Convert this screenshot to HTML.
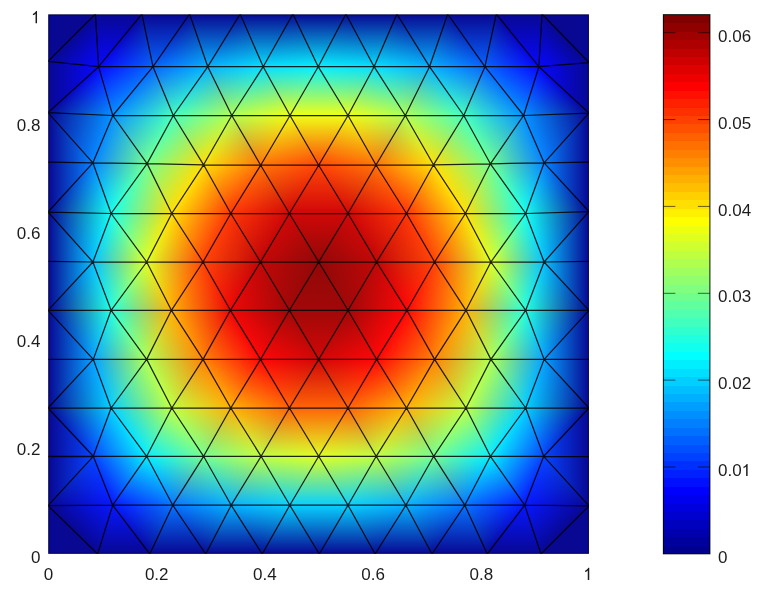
<!DOCTYPE html>
<html><head><meta charset="utf-8"><title>plot</title>
<style>html,body{margin:0;padding:0;background:#fff;}svg{display:block;}text{font-family:"Liberation Sans",sans-serif;font-size:17px;fill:#151515;}</style>
</head><body>
<svg width="768" height="598" viewBox="0 0 768 598">
<rect width="768" height="598" fill="#fff"/>
<defs><linearGradient id="g0" gradientUnits="userSpaceOnUse" x1="345.9" y1="14.0" x2="345.9" y2="66.7"><stop offset="0" stop-color="#000000"/><stop offset="1" stop-color="#00df00"/></linearGradient><linearGradient id="g1" gradientUnits="userSpaceOnUse" x1="345.9" y1="14.0" x2="345.9" y2="66.7"><stop offset="0" stop-color="#00008f"/><stop offset="1" stop-color="#0000ff"/></linearGradient><linearGradient id="g2" gradientUnits="userSpaceOnUse" x1="230.8" y1="213.5" x2="197.2" y2="169.7"><stop offset="0" stop-color="#003000"/><stop offset="1" stop-color="#00df00"/></linearGradient><linearGradient id="g3" gradientUnits="userSpaceOnUse" x1="318.7" y1="262.0" x2="279.7" y2="223.2"><stop offset="0" stop-color="#8f0000"/><stop offset="1" stop-color="#cf0000"/></linearGradient><linearGradient id="g4" gradientUnits="userSpaceOnUse" x1="260.5" y1="262.0" x2="221.4" y2="222.9"><stop offset="0" stop-color="#bf0000"/><stop offset="1" stop-color="#ff0000"/></linearGradient><linearGradient id="g5" gradientUnits="userSpaceOnUse" x1="289.4" y1="213.5" x2="246.2" y2="187.7"><stop offset="0" stop-color="#000000"/><stop offset="1" stop-color="#003000"/></linearGradient><linearGradient id="g6" gradientUnits="userSpaceOnUse" x1="289.4" y1="213.5" x2="247.0" y2="187.3"><stop offset="0" stop-color="#cf0000"/><stop offset="1" stop-color="#ff0000"/></linearGradient><linearGradient id="g7" gradientUnits="userSpaceOnUse" x1="289.4" y1="213.5" x2="266.6" y2="162.6"><stop offset="0" stop-color="#000000"/><stop offset="1" stop-color="#007000"/></linearGradient><linearGradient id="g8" gradientUnits="userSpaceOnUse" x1="92.9" y1="262.0" x2="142.4" y2="276.6"><stop offset="0" stop-color="#000000"/><stop offset="1" stop-color="#df0000"/></linearGradient><linearGradient id="g9" gradientUnits="userSpaceOnUse" x1="92.9" y1="262.0" x2="127.9" y2="236.3"><stop offset="0" stop-color="#00bf00"/><stop offset="1" stop-color="#00ff00"/></linearGradient><linearGradient id="g10" gradientUnits="userSpaceOnUse" x1="146.7" y1="262.0" x2="97.2" y2="247.4"><stop offset="0" stop-color="#000020"/><stop offset="1" stop-color="#0000ff"/></linearGradient><linearGradient id="g11" gradientUnits="userSpaceOnUse" x1="348.0" y1="505.2" x2="341.2" y2="453.4"><stop offset="0" stop-color="#000000"/><stop offset="1" stop-color="#df0000"/></linearGradient><linearGradient id="g12" gradientUnits="userSpaceOnUse" x1="348.0" y1="505.2" x2="348.0" y2="456.3"><stop offset="0" stop-color="#00cf00"/><stop offset="1" stop-color="#00ff00"/></linearGradient><linearGradient id="g13" gradientUnits="userSpaceOnUse" x1="318.7" y1="456.3" x2="325.5" y2="508.1"><stop offset="0" stop-color="#000020"/><stop offset="1" stop-color="#0000ff"/></linearGradient><linearGradient id="g14" gradientUnits="userSpaceOnUse" x1="48.0" y1="310.3" x2="92.9" y2="310.3"><stop offset="0" stop-color="#000000"/><stop offset="1" stop-color="#00bf00"/></linearGradient><linearGradient id="g15" gradientUnits="userSpaceOnUse" x1="48.0" y1="310.3" x2="92.9" y2="310.3"><stop offset="0" stop-color="#00008f"/><stop offset="1" stop-color="#0000ff"/></linearGradient><linearGradient id="g16" gradientUnits="userSpaceOnUse" x1="205.7" y1="554.0" x2="205.7" y2="505.2"><stop offset="0" stop-color="#000000"/><stop offset="1" stop-color="#007000"/></linearGradient><linearGradient id="g17" gradientUnits="userSpaceOnUse" x1="205.7" y1="554.0" x2="205.7" y2="505.2"><stop offset="0" stop-color="#00008f"/><stop offset="1" stop-color="#0000ff"/></linearGradient><linearGradient id="g18" gradientUnits="userSpaceOnUse" x1="48.0" y1="456.5" x2="93.3" y2="456.5"><stop offset="0" stop-color="#000000"/><stop offset="1" stop-color="#004000"/></linearGradient><linearGradient id="g19" gradientUnits="userSpaceOnUse" x1="48.0" y1="456.5" x2="93.3" y2="456.5"><stop offset="0" stop-color="#00008f"/><stop offset="1" stop-color="#0000ff"/></linearGradient><linearGradient id="g20" gradientUnits="userSpaceOnUse" x1="48.0" y1="408.0" x2="110.8" y2="403.8"><stop offset="0" stop-color="#000000"/><stop offset="1" stop-color="#00cf00"/></linearGradient><linearGradient id="g21" gradientUnits="userSpaceOnUse" x1="48.0" y1="408.0" x2="103.6" y2="387.6"><stop offset="0" stop-color="#00008f"/><stop offset="1" stop-color="#0000ff"/></linearGradient><linearGradient id="g22" gradientUnits="userSpaceOnUse" x1="48.0" y1="408.0" x2="97.0" y2="381.7"><stop offset="0" stop-color="#000000"/><stop offset="1" stop-color="#00cf00"/></linearGradient><linearGradient id="g23" gradientUnits="userSpaceOnUse" x1="48.0" y1="408.0" x2="103.6" y2="428.5"><stop offset="0" stop-color="#00008f"/><stop offset="1" stop-color="#0000ff"/></linearGradient><linearGradient id="g24" gradientUnits="userSpaceOnUse" x1="111.1" y1="408.0" x2="158.2" y2="390.8"><stop offset="0" stop-color="#000000"/><stop offset="1" stop-color="#af0000"/></linearGradient><linearGradient id="g25" gradientUnits="userSpaceOnUse" x1="93.3" y1="359.4" x2="145.0" y2="368.9"><stop offset="0" stop-color="#009f00"/><stop offset="1" stop-color="#00ff00"/></linearGradient><linearGradient id="g26" gradientUnits="userSpaceOnUse" x1="146.7" y1="359.4" x2="99.6" y2="376.6"><stop offset="0" stop-color="#000050"/><stop offset="1" stop-color="#0000ff"/></linearGradient><linearGradient id="g27" gradientUnits="userSpaceOnUse" x1="111.1" y1="408.0" x2="163.0" y2="386.6"><stop offset="0" stop-color="#000000"/><stop offset="1" stop-color="#bf0000"/></linearGradient><linearGradient id="g28" gradientUnits="userSpaceOnUse" x1="111.1" y1="408.0" x2="159.0" y2="383.3"><stop offset="0" stop-color="#00cf00"/><stop offset="1" stop-color="#00ff00"/></linearGradient><linearGradient id="g29" gradientUnits="userSpaceOnUse" x1="171.8" y1="408.0" x2="119.9" y2="429.4"><stop offset="0" stop-color="#000040"/><stop offset="1" stop-color="#0000ff"/></linearGradient><linearGradient id="g30" gradientUnits="userSpaceOnUse" x1="319.3" y1="554.0" x2="319.3" y2="505.2"><stop offset="0" stop-color="#000000"/><stop offset="1" stop-color="#00cf00"/></linearGradient><linearGradient id="g31" gradientUnits="userSpaceOnUse" x1="319.3" y1="554.0" x2="319.3" y2="505.2"><stop offset="0" stop-color="#00008f"/><stop offset="1" stop-color="#0000ff"/></linearGradient><linearGradient id="g32" gradientUnits="userSpaceOnUse" x1="348.0" y1="505.2" x2="348.0" y2="456.3"><stop offset="0" stop-color="#000000"/><stop offset="1" stop-color="#df0000"/></linearGradient><linearGradient id="g33" gradientUnits="userSpaceOnUse" x1="348.0" y1="505.2" x2="348.0" y2="456.3"><stop offset="0" stop-color="#00cf00"/><stop offset="1" stop-color="#00ff00"/></linearGradient><linearGradient id="g34" gradientUnits="userSpaceOnUse" x1="318.7" y1="456.3" x2="318.7" y2="505.2"><stop offset="0" stop-color="#000020"/><stop offset="1" stop-color="#0000ff"/></linearGradient><linearGradient id="g35" gradientUnits="userSpaceOnUse" x1="589.0" y1="62.5" x2="538.9" y2="62.5"><stop offset="0" stop-color="#00008f"/><stop offset="1" stop-color="#0000ff"/></linearGradient><linearGradient id="g36" gradientUnits="userSpaceOnUse" x1="542.0" y1="14.0" x2="514.1" y2="41.1"><stop offset="0" stop-color="#00008f"/><stop offset="1" stop-color="#0000ff"/></linearGradient><linearGradient id="g37" gradientUnits="userSpaceOnUse" x1="496.3" y1="14.0" x2="496.3" y2="66.7"><stop offset="0" stop-color="#00008f"/><stop offset="1" stop-color="#0000ff"/></linearGradient><linearGradient id="g38" gradientUnits="userSpaceOnUse" x1="230.8" y1="213.5" x2="189.4" y2="186.5"><stop offset="0" stop-color="#003000"/><stop offset="1" stop-color="#00df00"/></linearGradient><linearGradient id="g39" gradientUnits="userSpaceOnUse" x1="111.1" y1="213.5" x2="165.2" y2="232.5"><stop offset="0" stop-color="#100000"/><stop offset="1" stop-color="#ff0000"/></linearGradient><linearGradient id="g40" gradientUnits="userSpaceOnUse" x1="171.8" y1="213.5" x2="132.4" y2="242.5"><stop offset="0" stop-color="#00df00"/><stop offset="1" stop-color="#00ff00"/></linearGradient><linearGradient id="g41" gradientUnits="userSpaceOnUse" x1="171.8" y1="213.5" x2="117.7" y2="194.5"><stop offset="0" stop-color="#000000"/><stop offset="1" stop-color="#0000ef"/></linearGradient><linearGradient id="g42" gradientUnits="userSpaceOnUse" x1="146.7" y1="262.0" x2="186.1" y2="287.8"><stop offset="0" stop-color="#df0000"/><stop offset="1" stop-color="#ff0000"/></linearGradient><linearGradient id="g43" gradientUnits="userSpaceOnUse" x1="203.0" y1="262.0" x2="146.7" y2="263.4"><stop offset="0" stop-color="#004000"/><stop offset="1" stop-color="#00ff00"/></linearGradient><linearGradient id="g44" gradientUnits="userSpaceOnUse" x1="203.0" y1="262.0" x2="163.6" y2="236.2"><stop offset="0" stop-color="#000000"/><stop offset="1" stop-color="#000020"/></linearGradient><linearGradient id="g45" gradientUnits="userSpaceOnUse" x1="230.4" y1="310.3" x2="189.1" y2="283.3"><stop offset="0" stop-color="#ef0000"/><stop offset="1" stop-color="#ff0000"/></linearGradient><linearGradient id="g46" gradientUnits="userSpaceOnUse" x1="230.4" y1="310.3" x2="172.3" y2="317.5"><stop offset="0" stop-color="#000000"/><stop offset="1" stop-color="#00af00"/></linearGradient><linearGradient id="g47" gradientUnits="userSpaceOnUse" x1="146.7" y1="262.0" x2="186.5" y2="236.4"><stop offset="0" stop-color="#df0000"/><stop offset="1" stop-color="#ff0000"/></linearGradient><linearGradient id="g48" gradientUnits="userSpaceOnUse" x1="203.0" y1="262.0" x2="152.1" y2="245.5"><stop offset="0" stop-color="#004000"/><stop offset="1" stop-color="#00ff00"/></linearGradient><linearGradient id="g49" gradientUnits="userSpaceOnUse" x1="171.8" y1="213.5" x2="132.0" y2="239.1"><stop offset="0" stop-color="#000000"/><stop offset="1" stop-color="#000020"/></linearGradient><linearGradient id="g50" gradientUnits="userSpaceOnUse" x1="230.8" y1="213.5" x2="182.2" y2="191.0"><stop offset="0" stop-color="#003000"/><stop offset="1" stop-color="#00df00"/></linearGradient><linearGradient id="g51" gradientUnits="userSpaceOnUse" x1="260.5" y1="262.0" x2="206.9" y2="276.5"><stop offset="0" stop-color="#bf0000"/><stop offset="1" stop-color="#ff0000"/></linearGradient><linearGradient id="g52" gradientUnits="userSpaceOnUse" x1="230.4" y1="310.3" x2="189.0" y2="284.5"><stop offset="0" stop-color="#000000"/><stop offset="1" stop-color="#004000"/></linearGradient><linearGradient id="g53" gradientUnits="userSpaceOnUse" x1="260.5" y1="262.0" x2="217.2" y2="237.2"><stop offset="0" stop-color="#bf0000"/><stop offset="1" stop-color="#ff0000"/></linearGradient><linearGradient id="g54" gradientUnits="userSpaceOnUse" x1="260.5" y1="262.0" x2="207.1" y2="247.2"><stop offset="0" stop-color="#000000"/><stop offset="1" stop-color="#004000"/></linearGradient><linearGradient id="g55" gradientUnits="userSpaceOnUse" x1="406.5" y1="213.5" x2="439.9" y2="169.7"><stop offset="0" stop-color="#003000"/><stop offset="1" stop-color="#00df00"/></linearGradient><linearGradient id="g56" gradientUnits="userSpaceOnUse" x1="292.9" y1="14.0" x2="296.5" y2="68.1"><stop offset="0" stop-color="#000000"/><stop offset="1" stop-color="#00ef00"/></linearGradient><linearGradient id="g57" gradientUnits="userSpaceOnUse" x1="292.9" y1="14.0" x2="292.9" y2="66.7"><stop offset="0" stop-color="#00008f"/><stop offset="1" stop-color="#0000ff"/></linearGradient><linearGradient id="g58" gradientUnits="userSpaceOnUse" x1="345.9" y1="14.0" x2="345.9" y2="66.7"><stop offset="0" stop-color="#000000"/><stop offset="1" stop-color="#00ef00"/></linearGradient><linearGradient id="g59" gradientUnits="userSpaceOnUse" x1="345.9" y1="14.0" x2="345.9" y2="66.7"><stop offset="0" stop-color="#00008f"/><stop offset="1" stop-color="#0000ff"/></linearGradient><linearGradient id="g60" gradientUnits="userSpaceOnUse" x1="345.9" y1="14.0" x2="342.4" y2="68.3"><stop offset="0" stop-color="#000000"/><stop offset="1" stop-color="#00ef00"/></linearGradient><linearGradient id="g61" gradientUnits="userSpaceOnUse" x1="345.9" y1="14.0" x2="345.9" y2="66.7"><stop offset="0" stop-color="#00008f"/><stop offset="1" stop-color="#0000ff"/></linearGradient><linearGradient id="g62" gradientUnits="userSpaceOnUse" x1="231.8" y1="115.5" x2="231.5" y2="165.0"><stop offset="0" stop-color="#af0000"/><stop offset="1" stop-color="#ff0000"/></linearGradient><linearGradient id="g63" gradientUnits="userSpaceOnUse" x1="260.7" y1="165.2" x2="220.1" y2="128.4"><stop offset="0" stop-color="#007000"/><stop offset="1" stop-color="#00ff00"/></linearGradient><linearGradient id="g64" gradientUnits="userSpaceOnUse" x1="260.7" y1="165.2" x2="261.0" y2="115.7"><stop offset="0" stop-color="#000000"/><stop offset="1" stop-color="#000050"/></linearGradient><linearGradient id="g65" gradientUnits="userSpaceOnUse" x1="173.3" y1="115.5" x2="206.6" y2="162.7"><stop offset="0" stop-color="#400000"/><stop offset="1" stop-color="#ff0000"/></linearGradient><linearGradient id="g66" gradientUnits="userSpaceOnUse" x1="203.6" y1="164.8" x2="203.6" y2="115.5"><stop offset="0" stop-color="#00df00"/><stop offset="1" stop-color="#00ff00"/></linearGradient><linearGradient id="g67" gradientUnits="userSpaceOnUse" x1="203.6" y1="164.8" x2="170.3" y2="117.6"><stop offset="0" stop-color="#000000"/><stop offset="1" stop-color="#0000bf"/></linearGradient><linearGradient id="g68" gradientUnits="userSpaceOnUse" x1="48.0" y1="212.0" x2="92.9" y2="212.0"><stop offset="0" stop-color="#000000"/><stop offset="1" stop-color="#00bf00"/></linearGradient><linearGradient id="g69" gradientUnits="userSpaceOnUse" x1="48.0" y1="212.0" x2="92.9" y2="212.0"><stop offset="0" stop-color="#00008f"/><stop offset="1" stop-color="#0000ff"/></linearGradient><linearGradient id="g70" gradientUnits="userSpaceOnUse" x1="48.0" y1="212.0" x2="82.2" y2="181.3"><stop offset="0" stop-color="#000000"/><stop offset="1" stop-color="#100000"/></linearGradient><linearGradient id="g71" gradientUnits="userSpaceOnUse" x1="48.0" y1="212.0" x2="111.0" y2="215.1"><stop offset="0" stop-color="#000000"/><stop offset="1" stop-color="#00ff00"/></linearGradient><linearGradient id="g72" gradientUnits="userSpaceOnUse" x1="48.0" y1="212.0" x2="103.1" y2="244.8"><stop offset="0" stop-color="#00008f"/><stop offset="1" stop-color="#0000ff"/></linearGradient><linearGradient id="g73" gradientUnits="userSpaceOnUse" x1="48.0" y1="212.0" x2="92.9" y2="212.0"><stop offset="0" stop-color="#000000"/><stop offset="1" stop-color="#008000"/></linearGradient><linearGradient id="g74" gradientUnits="userSpaceOnUse" x1="48.0" y1="212.0" x2="92.9" y2="212.0"><stop offset="0" stop-color="#00008f"/><stop offset="1" stop-color="#0000ff"/></linearGradient><linearGradient id="g75" gradientUnits="userSpaceOnUse" x1="48.0" y1="212.0" x2="83.2" y2="244.1"><stop offset="0" stop-color="#000000"/><stop offset="1" stop-color="#100000"/></linearGradient><linearGradient id="g76" gradientUnits="userSpaceOnUse" x1="48.0" y1="212.0" x2="107.3" y2="227.8"><stop offset="0" stop-color="#000000"/><stop offset="1" stop-color="#00ff00"/></linearGradient><linearGradient id="g77" gradientUnits="userSpaceOnUse" x1="48.0" y1="212.0" x2="103.1" y2="180.9"><stop offset="0" stop-color="#00008f"/><stop offset="1" stop-color="#0000ff"/></linearGradient><linearGradient id="g78" gradientUnits="userSpaceOnUse" x1="240.2" y1="14.0" x2="240.2" y2="66.7"><stop offset="0" stop-color="#000000"/><stop offset="1" stop-color="#00df00"/></linearGradient><linearGradient id="g79" gradientUnits="userSpaceOnUse" x1="240.2" y1="14.0" x2="240.2" y2="66.7"><stop offset="0" stop-color="#00008f"/><stop offset="1" stop-color="#0000ff"/></linearGradient><linearGradient id="g80" gradientUnits="userSpaceOnUse" x1="48.0" y1="162.1" x2="92.9" y2="162.1"><stop offset="0" stop-color="#000000"/><stop offset="1" stop-color="#008000"/></linearGradient><linearGradient id="g81" gradientUnits="userSpaceOnUse" x1="48.0" y1="162.1" x2="92.9" y2="162.1"><stop offset="0" stop-color="#00008f"/><stop offset="1" stop-color="#0000ff"/></linearGradient><linearGradient id="g82" gradientUnits="userSpaceOnUse" x1="141.9" y1="14.0" x2="141.9" y2="66.7"><stop offset="0" stop-color="#000000"/><stop offset="1" stop-color="#006000"/></linearGradient><linearGradient id="g83" gradientUnits="userSpaceOnUse" x1="141.9" y1="14.0" x2="141.9" y2="66.7"><stop offset="0" stop-color="#00008f"/><stop offset="1" stop-color="#0000ff"/></linearGradient><linearGradient id="g84" gradientUnits="userSpaceOnUse" x1="98.6" y1="66.7" x2="131.1" y2="93.4"><stop offset="0" stop-color="#000000"/><stop offset="1" stop-color="#006000"/></linearGradient><linearGradient id="g85" gradientUnits="userSpaceOnUse" x1="141.9" y1="14.0" x2="141.9" y2="66.7"><stop offset="0" stop-color="#00008f"/><stop offset="1" stop-color="#0000ff"/></linearGradient><linearGradient id="g86" gradientUnits="userSpaceOnUse" x1="98.6" y1="66.7" x2="126.7" y2="105.5"><stop offset="0" stop-color="#000000"/><stop offset="1" stop-color="#008f00"/></linearGradient><linearGradient id="g87" gradientUnits="userSpaceOnUse" x1="112.8" y1="115.5" x2="148.8" y2="145.2"><stop offset="0" stop-color="#000000"/><stop offset="1" stop-color="#400000"/></linearGradient><linearGradient id="g88" gradientUnits="userSpaceOnUse" x1="153.0" y1="66.7" x2="183.5" y2="108.0"><stop offset="0" stop-color="#006000"/><stop offset="1" stop-color="#00ff00"/></linearGradient><linearGradient id="g89" gradientUnits="userSpaceOnUse" x1="173.3" y1="115.5" x2="137.3" y2="85.8"><stop offset="0" stop-color="#0000bf"/><stop offset="1" stop-color="#0000ff"/></linearGradient><linearGradient id="g90" gradientUnits="userSpaceOnUse" x1="48.0" y1="112.6" x2="109.2" y2="128.9"><stop offset="0" stop-color="#000000"/><stop offset="1" stop-color="#008f00"/></linearGradient><linearGradient id="g91" gradientUnits="userSpaceOnUse" x1="48.0" y1="112.6" x2="104.1" y2="136.2"><stop offset="0" stop-color="#00008f"/><stop offset="1" stop-color="#0000ff"/></linearGradient><linearGradient id="g92" gradientUnits="userSpaceOnUse" x1="48.0" y1="112.6" x2="78.7" y2="146.4"><stop offset="0" stop-color="#000000"/><stop offset="1" stop-color="#008f00"/></linearGradient><linearGradient id="g93" gradientUnits="userSpaceOnUse" x1="48.0" y1="112.6" x2="107.0" y2="95.4"><stop offset="0" stop-color="#00008f"/><stop offset="1" stop-color="#0000ff"/></linearGradient><linearGradient id="g94" gradientUnits="userSpaceOnUse" x1="375.1" y1="554.0" x2="375.1" y2="505.2"><stop offset="0" stop-color="#000000"/><stop offset="1" stop-color="#00cf00"/></linearGradient><linearGradient id="g95" gradientUnits="userSpaceOnUse" x1="375.1" y1="554.0" x2="375.1" y2="505.2"><stop offset="0" stop-color="#00008f"/><stop offset="1" stop-color="#0000ff"/></linearGradient><linearGradient id="g96" gradientUnits="userSpaceOnUse" x1="405.9" y1="505.2" x2="405.9" y2="456.3"><stop offset="0" stop-color="#000000"/><stop offset="1" stop-color="#bf0000"/></linearGradient><linearGradient id="g97" gradientUnits="userSpaceOnUse" x1="405.9" y1="505.2" x2="383.8" y2="453.1"><stop offset="0" stop-color="#00af00"/><stop offset="1" stop-color="#00ff00"/></linearGradient><linearGradient id="g98" gradientUnits="userSpaceOnUse" x1="376.2" y1="456.3" x2="376.2" y2="505.2"><stop offset="0" stop-color="#000040"/><stop offset="1" stop-color="#0000ff"/></linearGradient><linearGradient id="g99" gradientUnits="userSpaceOnUse" x1="375.1" y1="554.0" x2="375.1" y2="505.2"><stop offset="0" stop-color="#000000"/><stop offset="1" stop-color="#00af00"/></linearGradient><linearGradient id="g100" gradientUnits="userSpaceOnUse" x1="375.1" y1="554.0" x2="375.1" y2="505.2"><stop offset="0" stop-color="#00008f"/><stop offset="1" stop-color="#0000ff"/></linearGradient><linearGradient id="g101" gradientUnits="userSpaceOnUse" x1="375.1" y1="554.0" x2="367.9" y2="502.4"><stop offset="0" stop-color="#000000"/><stop offset="1" stop-color="#00cf00"/></linearGradient><linearGradient id="g102" gradientUnits="userSpaceOnUse" x1="375.1" y1="554.0" x2="375.1" y2="505.2"><stop offset="0" stop-color="#00008f"/><stop offset="1" stop-color="#0000ff"/></linearGradient><linearGradient id="g103" gradientUnits="userSpaceOnUse" x1="589.0" y1="408.0" x2="543.7" y2="408.0"><stop offset="0" stop-color="#000000"/><stop offset="1" stop-color="#004000"/></linearGradient><linearGradient id="g104" gradientUnits="userSpaceOnUse" x1="589.0" y1="408.0" x2="543.7" y2="408.0"><stop offset="0" stop-color="#00008f"/><stop offset="1" stop-color="#0000ff"/></linearGradient><linearGradient id="g105" gradientUnits="userSpaceOnUse" x1="376.6" y1="262.0" x2="420.0" y2="236.8"><stop offset="0" stop-color="#bf0000"/><stop offset="1" stop-color="#ff0000"/></linearGradient><linearGradient id="g106" gradientUnits="userSpaceOnUse" x1="376.6" y1="262.0" x2="430.4" y2="246.9"><stop offset="0" stop-color="#000000"/><stop offset="1" stop-color="#004000"/></linearGradient><linearGradient id="g107" gradientUnits="userSpaceOnUse" x1="406.9" y1="310.3" x2="465.0" y2="317.8"><stop offset="0" stop-color="#000000"/><stop offset="1" stop-color="#00af00"/></linearGradient><linearGradient id="g108" gradientUnits="userSpaceOnUse" x1="376.6" y1="262.0" x2="420.2" y2="287.0"><stop offset="0" stop-color="#bf0000"/><stop offset="1" stop-color="#ff0000"/></linearGradient><linearGradient id="g109" gradientUnits="userSpaceOnUse" x1="406.9" y1="310.3" x2="448.5" y2="284.2"><stop offset="0" stop-color="#000000"/><stop offset="1" stop-color="#004000"/></linearGradient><linearGradient id="g110" gradientUnits="userSpaceOnUse" x1="490.9" y1="262.0" x2="451.3" y2="287.7"><stop offset="0" stop-color="#df0000"/><stop offset="1" stop-color="#ff0000"/></linearGradient><linearGradient id="g111" gradientUnits="userSpaceOnUse" x1="434.6" y1="262.0" x2="490.8" y2="263.7"><stop offset="0" stop-color="#004000"/><stop offset="1" stop-color="#00ff00"/></linearGradient><linearGradient id="g112" gradientUnits="userSpaceOnUse" x1="434.6" y1="262.0" x2="474.2" y2="236.3"><stop offset="0" stop-color="#000000"/><stop offset="1" stop-color="#000020"/></linearGradient><linearGradient id="g113" gradientUnits="userSpaceOnUse" x1="48.0" y1="359.4" x2="93.3" y2="359.4"><stop offset="0" stop-color="#000000"/><stop offset="1" stop-color="#009f00"/></linearGradient><linearGradient id="g114" gradientUnits="userSpaceOnUse" x1="48.0" y1="359.4" x2="93.3" y2="359.4"><stop offset="0" stop-color="#00008f"/><stop offset="1" stop-color="#0000ff"/></linearGradient><linearGradient id="g115" gradientUnits="userSpaceOnUse" x1="48.0" y1="359.4" x2="93.3" y2="359.4"><stop offset="0" stop-color="#000000"/><stop offset="1" stop-color="#009f00"/></linearGradient><linearGradient id="g116" gradientUnits="userSpaceOnUse" x1="48.0" y1="359.4" x2="93.3" y2="359.4"><stop offset="0" stop-color="#00008f"/><stop offset="1" stop-color="#0000ff"/></linearGradient><linearGradient id="g117" gradientUnits="userSpaceOnUse" x1="149.8" y1="554.0" x2="186.1" y2="519.0"><stop offset="0" stop-color="#000000"/><stop offset="1" stop-color="#007000"/></linearGradient><linearGradient id="g118" gradientUnits="userSpaceOnUse" x1="149.8" y1="554.0" x2="149.8" y2="505.2"><stop offset="0" stop-color="#00008f"/><stop offset="1" stop-color="#0000ff"/></linearGradient><linearGradient id="g119" gradientUnits="userSpaceOnUse" x1="112.7" y1="505.2" x2="137.2" y2="451.9"><stop offset="0" stop-color="#001000"/><stop offset="1" stop-color="#00ef00"/></linearGradient><linearGradient id="g120" gradientUnits="userSpaceOnUse" x1="112.7" y1="505.2" x2="158.5" y2="473.4"><stop offset="0" stop-color="#001000"/><stop offset="1" stop-color="#00ef00"/></linearGradient><linearGradient id="g121" gradientUnits="userSpaceOnUse" x1="93.3" y1="456.3" x2="134.8" y2="434.1"><stop offset="0" stop-color="#004000"/><stop offset="1" stop-color="#00ef00"/></linearGradient><linearGradient id="g122" gradientUnits="userSpaceOnUse" x1="146.7" y1="456.3" x2="186.0" y2="427.3"><stop offset="0" stop-color="#000000"/><stop offset="1" stop-color="#bf0000"/></linearGradient><linearGradient id="g123" gradientUnits="userSpaceOnUse" x1="111.1" y1="408.0" x2="171.2" y2="414.1"><stop offset="0" stop-color="#00cf00"/><stop offset="1" stop-color="#00ff00"/></linearGradient><linearGradient id="g124" gradientUnits="userSpaceOnUse" x1="171.8" y1="408.0" x2="132.5" y2="437.0"><stop offset="0" stop-color="#000040"/><stop offset="1" stop-color="#0000ff"/></linearGradient><linearGradient id="g125" gradientUnits="userSpaceOnUse" x1="262.2" y1="554.0" x2="262.2" y2="505.2"><stop offset="0" stop-color="#000000"/><stop offset="1" stop-color="#00cf00"/></linearGradient><linearGradient id="g126" gradientUnits="userSpaceOnUse" x1="262.2" y1="554.0" x2="262.2" y2="505.2"><stop offset="0" stop-color="#00008f"/><stop offset="1" stop-color="#0000ff"/></linearGradient><linearGradient id="g127" gradientUnits="userSpaceOnUse" x1="205.7" y1="554.0" x2="224.2" y2="502.7"><stop offset="0" stop-color="#000000"/><stop offset="1" stop-color="#00af00"/></linearGradient><linearGradient id="g128" gradientUnits="userSpaceOnUse" x1="205.7" y1="554.0" x2="205.7" y2="505.2"><stop offset="0" stop-color="#00008f"/><stop offset="1" stop-color="#0000ff"/></linearGradient><linearGradient id="g129" gradientUnits="userSpaceOnUse" x1="262.2" y1="554.0" x2="262.2" y2="505.2"><stop offset="0" stop-color="#000000"/><stop offset="1" stop-color="#00af00"/></linearGradient><linearGradient id="g130" gradientUnits="userSpaceOnUse" x1="262.2" y1="554.0" x2="262.2" y2="505.2"><stop offset="0" stop-color="#00008f"/><stop offset="1" stop-color="#0000ff"/></linearGradient><linearGradient id="g131" gradientUnits="userSpaceOnUse" x1="262.2" y1="554.0" x2="269.3" y2="502.4"><stop offset="0" stop-color="#000000"/><stop offset="1" stop-color="#00cf00"/></linearGradient><linearGradient id="g132" gradientUnits="userSpaceOnUse" x1="262.2" y1="554.0" x2="262.2" y2="505.2"><stop offset="0" stop-color="#00008f"/><stop offset="1" stop-color="#0000ff"/></linearGradient><linearGradient id="g133" gradientUnits="userSpaceOnUse" x1="589.0" y1="113.0" x2="557.6" y2="146.9"><stop offset="0" stop-color="#000000"/><stop offset="1" stop-color="#008f00"/></linearGradient><linearGradient id="g134" gradientUnits="userSpaceOnUse" x1="589.0" y1="113.0" x2="530.2" y2="94.6"><stop offset="0" stop-color="#00008f"/><stop offset="1" stop-color="#0000ff"/></linearGradient><linearGradient id="g135" gradientUnits="userSpaceOnUse" x1="48.0" y1="310.3" x2="82.1" y2="278.9"><stop offset="0" stop-color="#000000"/><stop offset="1" stop-color="#200000"/></linearGradient><linearGradient id="g136" gradientUnits="userSpaceOnUse" x1="48.0" y1="310.3" x2="110.2" y2="302.9"><stop offset="0" stop-color="#000000"/><stop offset="1" stop-color="#00ff00"/></linearGradient><linearGradient id="g137" gradientUnits="userSpaceOnUse" x1="48.0" y1="310.3" x2="98.0" y2="354.1"><stop offset="0" stop-color="#00008f"/><stop offset="1" stop-color="#0000ff"/></linearGradient><linearGradient id="g138" gradientUnits="userSpaceOnUse" x1="48.0" y1="310.3" x2="81.8" y2="341.8"><stop offset="0" stop-color="#000000"/><stop offset="1" stop-color="#200000"/></linearGradient><linearGradient id="g139" gradientUnits="userSpaceOnUse" x1="48.0" y1="310.3" x2="110.9" y2="307.1"><stop offset="0" stop-color="#000000"/><stop offset="1" stop-color="#00ff00"/></linearGradient><linearGradient id="g140" gradientUnits="userSpaceOnUse" x1="48.0" y1="310.3" x2="96.8" y2="266.4"><stop offset="0" stop-color="#00008f"/><stop offset="1" stop-color="#0000ff"/></linearGradient><linearGradient id="g141" gradientUnits="userSpaceOnUse" x1="93.3" y1="359.4" x2="145.3" y2="368.0"><stop offset="0" stop-color="#000000"/><stop offset="1" stop-color="#af0000"/></linearGradient><linearGradient id="g142" gradientUnits="userSpaceOnUse" x1="93.3" y1="359.4" x2="128.3" y2="334.0"><stop offset="0" stop-color="#009f00"/><stop offset="1" stop-color="#00ff00"/></linearGradient><linearGradient id="g143" gradientUnits="userSpaceOnUse" x1="146.7" y1="359.4" x2="94.7" y2="350.8"><stop offset="0" stop-color="#000050"/><stop offset="1" stop-color="#0000ff"/></linearGradient><linearGradient id="g144" gradientUnits="userSpaceOnUse" x1="111.1" y1="310.3" x2="171.2" y2="314.2"><stop offset="0" stop-color="#200000"/><stop offset="1" stop-color="#ff0000"/></linearGradient><linearGradient id="g145" gradientUnits="userSpaceOnUse" x1="171.4" y1="310.3" x2="131.9" y2="339.0"><stop offset="0" stop-color="#00af00"/><stop offset="1" stop-color="#00ff00"/></linearGradient><linearGradient id="g146" gradientUnits="userSpaceOnUse" x1="171.4" y1="310.3" x2="111.3" y2="306.4"><stop offset="0" stop-color="#000000"/><stop offset="1" stop-color="#0000df"/></linearGradient><linearGradient id="g147" gradientUnits="userSpaceOnUse" x1="92.9" y1="262.0" x2="144.3" y2="250.8"><stop offset="0" stop-color="#000000"/><stop offset="1" stop-color="#df0000"/></linearGradient><linearGradient id="g148" gradientUnits="userSpaceOnUse" x1="92.9" y1="262.0" x2="127.8" y2="287.7"><stop offset="0" stop-color="#00bf00"/><stop offset="1" stop-color="#00ff00"/></linearGradient><linearGradient id="g149" gradientUnits="userSpaceOnUse" x1="146.7" y1="262.0" x2="95.3" y2="273.2"><stop offset="0" stop-color="#000020"/><stop offset="1" stop-color="#0000ff"/></linearGradient><linearGradient id="g150" gradientUnits="userSpaceOnUse" x1="111.1" y1="310.3" x2="165.4" y2="292.2"><stop offset="0" stop-color="#200000"/><stop offset="1" stop-color="#ff0000"/></linearGradient><linearGradient id="g151" gradientUnits="userSpaceOnUse" x1="171.4" y1="310.3" x2="132.3" y2="281.5"><stop offset="0" stop-color="#00af00"/><stop offset="1" stop-color="#00ff00"/></linearGradient><linearGradient id="g152" gradientUnits="userSpaceOnUse" x1="171.4" y1="310.3" x2="117.1" y2="328.4"><stop offset="0" stop-color="#000000"/><stop offset="1" stop-color="#0000df"/></linearGradient><linearGradient id="g153" gradientUnits="userSpaceOnUse" x1="112.8" y1="115.5" x2="159.1" y2="135.0"><stop offset="0" stop-color="#000000"/><stop offset="1" stop-color="#700000"/></linearGradient><linearGradient id="g154" gradientUnits="userSpaceOnUse" x1="92.9" y1="162.8" x2="143.4" y2="176.8"><stop offset="0" stop-color="#008000"/><stop offset="1" stop-color="#00ff00"/></linearGradient><linearGradient id="g155" gradientUnits="userSpaceOnUse" x1="147.1" y1="163.6" x2="100.8" y2="144.1"><stop offset="0" stop-color="#00008f"/><stop offset="1" stop-color="#0000ff"/></linearGradient><linearGradient id="g156" gradientUnits="userSpaceOnUse" x1="112.8" y1="115.5" x2="145.7" y2="164.5"><stop offset="0" stop-color="#000000"/><stop offset="1" stop-color="#700000"/></linearGradient><linearGradient id="g157" gradientUnits="userSpaceOnUse" x1="112.8" y1="115.5" x2="159.5" y2="140.9"><stop offset="0" stop-color="#008f00"/><stop offset="1" stop-color="#00ff00"/></linearGradient><linearGradient id="g158" gradientUnits="userSpaceOnUse" x1="147.1" y1="163.6" x2="114.2" y2="114.6"><stop offset="0" stop-color="#00008f"/><stop offset="1" stop-color="#0000ff"/></linearGradient><linearGradient id="g159" gradientUnits="userSpaceOnUse" x1="92.9" y1="162.8" x2="144.7" y2="152.1"><stop offset="0" stop-color="#000000"/><stop offset="1" stop-color="#700000"/></linearGradient><linearGradient id="g160" gradientUnits="userSpaceOnUse" x1="92.9" y1="162.8" x2="128.9" y2="188.8"><stop offset="0" stop-color="#008000"/><stop offset="1" stop-color="#00ff00"/></linearGradient><linearGradient id="g161" gradientUnits="userSpaceOnUse" x1="147.1" y1="163.6" x2="95.3" y2="174.3"><stop offset="0" stop-color="#00008f"/><stop offset="1" stop-color="#0000ff"/></linearGradient><linearGradient id="g162" gradientUnits="userSpaceOnUse" x1="111.1" y1="213.5" x2="168.6" y2="227.0"><stop offset="0" stop-color="#100000"/><stop offset="1" stop-color="#ff0000"/></linearGradient><linearGradient id="g163" gradientUnits="userSpaceOnUse" x1="171.8" y1="213.5" x2="131.9" y2="184.7"><stop offset="0" stop-color="#00df00"/><stop offset="1" stop-color="#00ff00"/></linearGradient><linearGradient id="g164" gradientUnits="userSpaceOnUse" x1="171.8" y1="213.5" x2="114.3" y2="200.0"><stop offset="0" stop-color="#000000"/><stop offset="1" stop-color="#0000ef"/></linearGradient><linearGradient id="g165" gradientUnits="userSpaceOnUse" x1="173.3" y1="115.5" x2="213.9" y2="153.9"><stop offset="0" stop-color="#400000"/><stop offset="1" stop-color="#ff0000"/></linearGradient><linearGradient id="g166" gradientUnits="userSpaceOnUse" x1="203.6" y1="164.8" x2="159.5" y2="140.8"><stop offset="0" stop-color="#00df00"/><stop offset="1" stop-color="#00ff00"/></linearGradient><linearGradient id="g167" gradientUnits="userSpaceOnUse" x1="203.6" y1="164.8" x2="163.0" y2="126.4"><stop offset="0" stop-color="#000000"/><stop offset="1" stop-color="#0000bf"/></linearGradient><linearGradient id="g168" gradientUnits="userSpaceOnUse" x1="147.1" y1="163.6" x2="187.3" y2="189.8"><stop offset="0" stop-color="#700000"/><stop offset="1" stop-color="#ff0000"/></linearGradient><linearGradient id="g169" gradientUnits="userSpaceOnUse" x1="171.8" y1="213.5" x2="131.6" y2="187.3"><stop offset="0" stop-color="#00df00"/><stop offset="1" stop-color="#00ff00"/></linearGradient><linearGradient id="g170" gradientUnits="userSpaceOnUse" x1="171.8" y1="213.5" x2="131.6" y2="187.3"><stop offset="0" stop-color="#000000"/><stop offset="1" stop-color="#00008f"/></linearGradient><linearGradient id="g171" gradientUnits="userSpaceOnUse" x1="405.3" y1="115.5" x2="405.5" y2="164.9"><stop offset="0" stop-color="#af0000"/><stop offset="1" stop-color="#ff0000"/></linearGradient><linearGradient id="g172" gradientUnits="userSpaceOnUse" x1="376.0" y1="165.0" x2="416.7" y2="128.1"><stop offset="0" stop-color="#007000"/><stop offset="1" stop-color="#00ff00"/></linearGradient><linearGradient id="g173" gradientUnits="userSpaceOnUse" x1="376.0" y1="165.0" x2="375.8" y2="115.6"><stop offset="0" stop-color="#000000"/><stop offset="1" stop-color="#000050"/></linearGradient><linearGradient id="g174" gradientUnits="userSpaceOnUse" x1="318.7" y1="262.0" x2="318.7" y2="213.5"><stop offset="0" stop-color="#8f0000"/><stop offset="1" stop-color="#cf0000"/></linearGradient><linearGradient id="g175" gradientUnits="userSpaceOnUse" x1="318.7" y1="262.0" x2="357.8" y2="223.4"><stop offset="0" stop-color="#8f0000"/><stop offset="1" stop-color="#cf0000"/></linearGradient><linearGradient id="g176" gradientUnits="userSpaceOnUse" x1="348.0" y1="213.5" x2="389.9" y2="187.1"><stop offset="0" stop-color="#cf0000"/><stop offset="1" stop-color="#ff0000"/></linearGradient><linearGradient id="g177" gradientUnits="userSpaceOnUse" x1="348.0" y1="213.5" x2="370.7" y2="162.6"><stop offset="0" stop-color="#000000"/><stop offset="1" stop-color="#007000"/></linearGradient><linearGradient id="g178" gradientUnits="userSpaceOnUse" x1="376.6" y1="262.0" x2="415.9" y2="223.0"><stop offset="0" stop-color="#bf0000"/><stop offset="1" stop-color="#ff0000"/></linearGradient><linearGradient id="g179" gradientUnits="userSpaceOnUse" x1="376.6" y1="262.0" x2="420.0" y2="236.4"><stop offset="0" stop-color="#000000"/><stop offset="1" stop-color="#003000"/></linearGradient><linearGradient id="g180" gradientUnits="userSpaceOnUse" x1="318.2" y1="66.7" x2="318.2" y2="115.5"><stop offset="0" stop-color="#000000"/><stop offset="1" stop-color="#ef0000"/></linearGradient><linearGradient id="g181" gradientUnits="userSpaceOnUse" x1="374.1" y1="66.7" x2="346.7" y2="114.8"><stop offset="0" stop-color="#00df00"/><stop offset="1" stop-color="#00ff00"/></linearGradient><linearGradient id="g182" gradientUnits="userSpaceOnUse" x1="348.0" y1="115.5" x2="348.0" y2="66.7"><stop offset="0" stop-color="#000010"/><stop offset="1" stop-color="#0000ff"/></linearGradient><linearGradient id="g183" gradientUnits="userSpaceOnUse" x1="374.1" y1="66.7" x2="360.6" y2="118.8"><stop offset="0" stop-color="#000000"/><stop offset="1" stop-color="#ef0000"/></linearGradient><linearGradient id="g184" gradientUnits="userSpaceOnUse" x1="374.1" y1="66.7" x2="374.1" y2="115.5"><stop offset="0" stop-color="#00df00"/><stop offset="1" stop-color="#00ff00"/></linearGradient><linearGradient id="g185" gradientUnits="userSpaceOnUse" x1="348.0" y1="115.5" x2="361.5" y2="63.4"><stop offset="0" stop-color="#000010"/><stop offset="1" stop-color="#0000ff"/></linearGradient><linearGradient id="g186" gradientUnits="userSpaceOnUse" x1="405.3" y1="115.5" x2="363.9" y2="150.9"><stop offset="0" stop-color="#af0000"/><stop offset="1" stop-color="#ff0000"/></linearGradient><linearGradient id="g187" gradientUnits="userSpaceOnUse" x1="376.0" y1="165.0" x2="376.0" y2="115.5"><stop offset="0" stop-color="#007000"/><stop offset="1" stop-color="#00ff00"/></linearGradient><linearGradient id="g188" gradientUnits="userSpaceOnUse" x1="376.0" y1="165.0" x2="417.4" y2="129.6"><stop offset="0" stop-color="#000000"/><stop offset="1" stop-color="#000050"/></linearGradient><linearGradient id="g189" gradientUnits="userSpaceOnUse" x1="318.2" y1="66.7" x2="318.2" y2="115.5"><stop offset="0" stop-color="#000000"/><stop offset="1" stop-color="#ef0000"/></linearGradient><linearGradient id="g190" gradientUnits="userSpaceOnUse" x1="263.2" y1="66.7" x2="291.4" y2="114.7"><stop offset="0" stop-color="#00df00"/><stop offset="1" stop-color="#00ff00"/></linearGradient><linearGradient id="g191" gradientUnits="userSpaceOnUse" x1="290.0" y1="115.5" x2="290.0" y2="66.7"><stop offset="0" stop-color="#000010"/><stop offset="1" stop-color="#0000ff"/></linearGradient><linearGradient id="g192" gradientUnits="userSpaceOnUse" x1="231.8" y1="115.5" x2="272.7" y2="151.6"><stop offset="0" stop-color="#af0000"/><stop offset="1" stop-color="#ff0000"/></linearGradient><linearGradient id="g193" gradientUnits="userSpaceOnUse" x1="260.7" y1="165.2" x2="260.7" y2="115.5"><stop offset="0" stop-color="#007000"/><stop offset="1" stop-color="#00ff00"/></linearGradient><linearGradient id="g194" gradientUnits="userSpaceOnUse" x1="260.7" y1="165.2" x2="219.8" y2="129.1"><stop offset="0" stop-color="#000000"/><stop offset="1" stop-color="#000050"/></linearGradient><linearGradient id="g195" gradientUnits="userSpaceOnUse" x1="263.2" y1="66.7" x2="276.5" y2="118.9"><stop offset="0" stop-color="#000000"/><stop offset="1" stop-color="#ef0000"/></linearGradient><linearGradient id="g196" gradientUnits="userSpaceOnUse" x1="263.2" y1="66.7" x2="263.2" y2="115.5"><stop offset="0" stop-color="#00df00"/><stop offset="1" stop-color="#00ff00"/></linearGradient><linearGradient id="g197" gradientUnits="userSpaceOnUse" x1="290.0" y1="115.5" x2="276.7" y2="63.3"><stop offset="0" stop-color="#000010"/><stop offset="1" stop-color="#0000ff"/></linearGradient><linearGradient id="g198" gradientUnits="userSpaceOnUse" x1="318.2" y1="66.7" x2="318.2" y2="115.5"><stop offset="0" stop-color="#000000"/><stop offset="1" stop-color="#ef0000"/></linearGradient><linearGradient id="g199" gradientUnits="userSpaceOnUse" x1="318.2" y1="66.7" x2="318.2" y2="115.5"><stop offset="0" stop-color="#00ef00"/><stop offset="1" stop-color="#00ff00"/></linearGradient><linearGradient id="g200" gradientUnits="userSpaceOnUse" x1="348.0" y1="115.5" x2="348.0" y2="66.7"><stop offset="0" stop-color="#000010"/><stop offset="1" stop-color="#0000ff"/></linearGradient><linearGradient id="g201" gradientUnits="userSpaceOnUse" x1="207.8" y1="66.7" x2="207.8" y2="115.5"><stop offset="0" stop-color="#000000"/><stop offset="1" stop-color="#af0000"/></linearGradient><linearGradient id="g202" gradientUnits="userSpaceOnUse" x1="207.8" y1="66.7" x2="239.0" y2="110.4"><stop offset="0" stop-color="#00af00"/><stop offset="1" stop-color="#00ff00"/></linearGradient><linearGradient id="g203" gradientUnits="userSpaceOnUse" x1="231.8" y1="115.5" x2="231.8" y2="66.7"><stop offset="0" stop-color="#000050"/><stop offset="1" stop-color="#0000ff"/></linearGradient><linearGradient id="g204" gradientUnits="userSpaceOnUse" x1="240.2" y1="14.0" x2="240.2" y2="66.7"><stop offset="0" stop-color="#000000"/><stop offset="1" stop-color="#00af00"/></linearGradient><linearGradient id="g205" gradientUnits="userSpaceOnUse" x1="240.2" y1="14.0" x2="240.2" y2="66.7"><stop offset="0" stop-color="#00008f"/><stop offset="1" stop-color="#0000ff"/></linearGradient><linearGradient id="g206" gradientUnits="userSpaceOnUse" x1="240.2" y1="14.0" x2="252.5" y2="69.1"><stop offset="0" stop-color="#000000"/><stop offset="1" stop-color="#00df00"/></linearGradient><linearGradient id="g207" gradientUnits="userSpaceOnUse" x1="240.2" y1="14.0" x2="240.2" y2="66.7"><stop offset="0" stop-color="#00008f"/><stop offset="1" stop-color="#0000ff"/></linearGradient><linearGradient id="g208" gradientUnits="userSpaceOnUse" x1="189.6" y1="14.0" x2="214.9" y2="63.1"><stop offset="0" stop-color="#000000"/><stop offset="1" stop-color="#00af00"/></linearGradient><linearGradient id="g209" gradientUnits="userSpaceOnUse" x1="189.6" y1="14.0" x2="189.6" y2="66.7"><stop offset="0" stop-color="#00008f"/><stop offset="1" stop-color="#0000ff"/></linearGradient><linearGradient id="g210" gradientUnits="userSpaceOnUse" x1="207.8" y1="66.7" x2="207.8" y2="115.5"><stop offset="0" stop-color="#000000"/><stop offset="1" stop-color="#400000"/></linearGradient><linearGradient id="g211" gradientUnits="userSpaceOnUse" x1="153.0" y1="66.7" x2="178.2" y2="112.8"><stop offset="0" stop-color="#006000"/><stop offset="1" stop-color="#00ff00"/></linearGradient><linearGradient id="g212" gradientUnits="userSpaceOnUse" x1="173.3" y1="115.5" x2="173.3" y2="66.7"><stop offset="0" stop-color="#0000bf"/><stop offset="1" stop-color="#0000ff"/></linearGradient><linearGradient id="g213" gradientUnits="userSpaceOnUse" x1="207.8" y1="66.7" x2="239.1" y2="110.3"><stop offset="0" stop-color="#000000"/><stop offset="1" stop-color="#af0000"/></linearGradient><linearGradient id="g214" gradientUnits="userSpaceOnUse" x1="207.8" y1="66.7" x2="207.8" y2="115.5"><stop offset="0" stop-color="#00af00"/><stop offset="1" stop-color="#00ff00"/></linearGradient><linearGradient id="g215" gradientUnits="userSpaceOnUse" x1="231.8" y1="115.5" x2="200.5" y2="71.9"><stop offset="0" stop-color="#000050"/><stop offset="1" stop-color="#0000ff"/></linearGradient><linearGradient id="g216" gradientUnits="userSpaceOnUse" x1="48.0" y1="112.6" x2="98.6" y2="112.6"><stop offset="0" stop-color="#00008f"/><stop offset="1" stop-color="#0000ff"/></linearGradient><linearGradient id="g217" gradientUnits="userSpaceOnUse" x1="95.4" y1="14.0" x2="95.4" y2="66.7"><stop offset="0" stop-color="#00008f"/><stop offset="1" stop-color="#0000ff"/></linearGradient><linearGradient id="g218" gradientUnits="userSpaceOnUse" x1="48.0" y1="61.4" x2="76.0" y2="89.3"><stop offset="0" stop-color="#00008f"/><stop offset="1" stop-color="#0000ff"/></linearGradient><linearGradient id="g219" gradientUnits="userSpaceOnUse" x1="487.3" y1="554.0" x2="487.3" y2="505.2"><stop offset="0" stop-color="#000000"/><stop offset="1" stop-color="#007000"/></linearGradient><linearGradient id="g220" gradientUnits="userSpaceOnUse" x1="487.3" y1="554.0" x2="487.3" y2="505.2"><stop offset="0" stop-color="#00008f"/><stop offset="1" stop-color="#0000ff"/></linearGradient><linearGradient id="g221" gradientUnits="userSpaceOnUse" x1="432.0" y1="554.0" x2="413.5" y2="502.5"><stop offset="0" stop-color="#000000"/><stop offset="1" stop-color="#00af00"/></linearGradient><linearGradient id="g222" gradientUnits="userSpaceOnUse" x1="432.0" y1="554.0" x2="432.0" y2="505.2"><stop offset="0" stop-color="#00008f"/><stop offset="1" stop-color="#0000ff"/></linearGradient><linearGradient id="g223" gradientUnits="userSpaceOnUse" x1="487.3" y1="554.0" x2="451.3" y2="519.1"><stop offset="0" stop-color="#000000"/><stop offset="1" stop-color="#007000"/></linearGradient><linearGradient id="g224" gradientUnits="userSpaceOnUse" x1="487.3" y1="554.0" x2="487.3" y2="505.2"><stop offset="0" stop-color="#00008f"/><stop offset="1" stop-color="#0000ff"/></linearGradient><linearGradient id="g225" gradientUnits="userSpaceOnUse" x1="541.0" y1="554.0" x2="541.0" y2="505.2"><stop offset="0" stop-color="#000000"/><stop offset="1" stop-color="#001000"/></linearGradient><linearGradient id="g226" gradientUnits="userSpaceOnUse" x1="541.0" y1="554.0" x2="541.0" y2="505.2"><stop offset="0" stop-color="#00008f"/><stop offset="1" stop-color="#0000ff"/></linearGradient><linearGradient id="g227" gradientUnits="userSpaceOnUse" x1="589.0" y1="505.9" x2="556.4" y2="473.4"><stop offset="0" stop-color="#000000"/><stop offset="1" stop-color="#001000"/></linearGradient><linearGradient id="g228" gradientUnits="userSpaceOnUse" x1="589.0" y1="505.9" x2="556.4" y2="473.4"><stop offset="0" stop-color="#00008f"/><stop offset="1" stop-color="#0000ff"/></linearGradient><linearGradient id="g229" gradientUnits="userSpaceOnUse" x1="589.0" y1="456.7" x2="543.7" y2="456.7"><stop offset="0" stop-color="#000000"/><stop offset="1" stop-color="#004000"/></linearGradient><linearGradient id="g230" gradientUnits="userSpaceOnUse" x1="589.0" y1="456.7" x2="543.7" y2="456.7"><stop offset="0" stop-color="#00008f"/><stop offset="1" stop-color="#0000ff"/></linearGradient><linearGradient id="g231" gradientUnits="userSpaceOnUse" x1="589.0" y1="505.9" x2="576.4" y2="449.1"><stop offset="0" stop-color="#000000"/><stop offset="1" stop-color="#004000"/></linearGradient><linearGradient id="g232" gradientUnits="userSpaceOnUse" x1="589.0" y1="505.9" x2="532.9" y2="484.1"><stop offset="0" stop-color="#00008f"/><stop offset="1" stop-color="#0000ff"/></linearGradient><linearGradient id="g233" gradientUnits="userSpaceOnUse" x1="589.0" y1="408.0" x2="539.8" y2="381.7"><stop offset="0" stop-color="#000000"/><stop offset="1" stop-color="#00cf00"/></linearGradient><linearGradient id="g234" gradientUnits="userSpaceOnUse" x1="589.0" y1="408.0" x2="533.4" y2="428.7"><stop offset="0" stop-color="#00008f"/><stop offset="1" stop-color="#0000ff"/></linearGradient><linearGradient id="g235" gradientUnits="userSpaceOnUse" x1="405.9" y1="505.2" x2="382.5" y2="453.4"><stop offset="0" stop-color="#000000"/><stop offset="1" stop-color="#bf0000"/></linearGradient><linearGradient id="g236" gradientUnits="userSpaceOnUse" x1="405.9" y1="505.2" x2="405.9" y2="456.3"><stop offset="0" stop-color="#00af00"/><stop offset="1" stop-color="#00ff00"/></linearGradient><linearGradient id="g237" gradientUnits="userSpaceOnUse" x1="376.2" y1="456.3" x2="399.6" y2="508.1"><stop offset="0" stop-color="#000040"/><stop offset="1" stop-color="#0000ff"/></linearGradient><linearGradient id="g238" gradientUnits="userSpaceOnUse" x1="464.8" y1="505.2" x2="464.8" y2="456.3"><stop offset="0" stop-color="#000000"/><stop offset="1" stop-color="#700000"/></linearGradient><linearGradient id="g239" gradientUnits="userSpaceOnUse" x1="464.8" y1="505.2" x2="439.8" y2="453.4"><stop offset="0" stop-color="#007000"/><stop offset="1" stop-color="#00ff00"/></linearGradient><linearGradient id="g240" gradientUnits="userSpaceOnUse" x1="433.7" y1="456.3" x2="433.7" y2="505.2"><stop offset="0" stop-color="#00008f"/><stop offset="1" stop-color="#0000ff"/></linearGradient><linearGradient id="g241" gradientUnits="userSpaceOnUse" x1="318.7" y1="262.0" x2="262.8" y2="250.6"><stop offset="0" stop-color="#8f0000"/><stop offset="1" stop-color="#bf0000"/></linearGradient><linearGradient id="g242" gradientUnits="userSpaceOnUse" x1="289.4" y1="310.3" x2="231.1" y2="316.7"><stop offset="0" stop-color="#9f0000"/><stop offset="1" stop-color="#ef0000"/></linearGradient><linearGradient id="g243" gradientUnits="userSpaceOnUse" x1="289.4" y1="310.3" x2="248.4" y2="345.3"><stop offset="0" stop-color="#9f0000"/><stop offset="1" stop-color="#ff0000"/></linearGradient><linearGradient id="g244" gradientUnits="userSpaceOnUse" x1="289.4" y1="310.3" x2="261.5" y2="360.0"><stop offset="0" stop-color="#9f0000"/><stop offset="1" stop-color="#ff0000"/></linearGradient><linearGradient id="g245" gradientUnits="userSpaceOnUse" x1="318.7" y1="359.4" x2="361.7" y2="384.7"><stop offset="0" stop-color="#cf0000"/><stop offset="1" stop-color="#ff0000"/></linearGradient><linearGradient id="g246" gradientUnits="userSpaceOnUse" x1="318.7" y1="359.4" x2="318.7" y2="408.0"><stop offset="0" stop-color="#000000"/><stop offset="1" stop-color="#006000"/></linearGradient><linearGradient id="g247" gradientUnits="userSpaceOnUse" x1="376.2" y1="456.3" x2="349.0" y2="407.4"><stop offset="0" stop-color="#bf0000"/><stop offset="1" stop-color="#ff0000"/></linearGradient><linearGradient id="g248" gradientUnits="userSpaceOnUse" x1="348.0" y1="408.0" x2="348.0" y2="456.3"><stop offset="0" stop-color="#006000"/><stop offset="1" stop-color="#00ff00"/></linearGradient><linearGradient id="g249" gradientUnits="userSpaceOnUse" x1="348.0" y1="408.0" x2="375.2" y2="456.9"><stop offset="0" stop-color="#000000"/><stop offset="1" stop-color="#000040"/></linearGradient><linearGradient id="g250" gradientUnits="userSpaceOnUse" x1="348.0" y1="310.3" x2="375.9" y2="359.8"><stop offset="0" stop-color="#9f0000"/><stop offset="1" stop-color="#ff0000"/></linearGradient><linearGradient id="g251" gradientUnits="userSpaceOnUse" x1="318.7" y1="262.0" x2="374.2" y2="250.5"><stop offset="0" stop-color="#8f0000"/><stop offset="1" stop-color="#bf0000"/></linearGradient><linearGradient id="g252" gradientUnits="userSpaceOnUse" x1="318.7" y1="262.0" x2="318.7" y2="310.3"><stop offset="0" stop-color="#8f0000"/><stop offset="1" stop-color="#9f0000"/></linearGradient><linearGradient id="g253" gradientUnits="userSpaceOnUse" x1="289.4" y1="310.3" x2="289.4" y2="359.4"><stop offset="0" stop-color="#9f0000"/><stop offset="1" stop-color="#cf0000"/></linearGradient><linearGradient id="g254" gradientUnits="userSpaceOnUse" x1="348.0" y1="310.3" x2="390.7" y2="336.6"><stop offset="0" stop-color="#9f0000"/><stop offset="1" stop-color="#ff0000"/></linearGradient><linearGradient id="g255" gradientUnits="userSpaceOnUse" x1="348.0" y1="310.3" x2="404.9" y2="320.9"><stop offset="0" stop-color="#9f0000"/><stop offset="1" stop-color="#ff0000"/></linearGradient><linearGradient id="g256" gradientUnits="userSpaceOnUse" x1="406.9" y1="310.3" x2="460.8" y2="327.1"><stop offset="0" stop-color="#000000"/><stop offset="1" stop-color="#00af00"/></linearGradient><linearGradient id="g257" gradientUnits="userSpaceOnUse" x1="406.9" y1="310.3" x2="448.9" y2="336.2"><stop offset="0" stop-color="#000000"/><stop offset="1" stop-color="#008000"/></linearGradient><linearGradient id="g258" gradientUnits="userSpaceOnUse" x1="525.7" y1="310.3" x2="472.2" y2="292.1"><stop offset="0" stop-color="#200000"/><stop offset="1" stop-color="#ff0000"/></linearGradient><linearGradient id="g259" gradientUnits="userSpaceOnUse" x1="466.0" y1="310.3" x2="505.3" y2="282.0"><stop offset="0" stop-color="#00af00"/><stop offset="1" stop-color="#00ff00"/></linearGradient><linearGradient id="g260" gradientUnits="userSpaceOnUse" x1="466.0" y1="310.3" x2="519.5" y2="328.5"><stop offset="0" stop-color="#000000"/><stop offset="1" stop-color="#0000df"/></linearGradient><linearGradient id="g261" gradientUnits="userSpaceOnUse" x1="490.4" y1="163.8" x2="450.1" y2="190.2"><stop offset="0" stop-color="#700000"/><stop offset="1" stop-color="#ff0000"/></linearGradient><linearGradient id="g262" gradientUnits="userSpaceOnUse" x1="465.4" y1="213.5" x2="505.7" y2="187.1"><stop offset="0" stop-color="#00df00"/><stop offset="1" stop-color="#00ff00"/></linearGradient><linearGradient id="g263" gradientUnits="userSpaceOnUse" x1="465.4" y1="213.5" x2="505.7" y2="187.1"><stop offset="0" stop-color="#000000"/><stop offset="1" stop-color="#00008f"/></linearGradient><linearGradient id="g264" gradientUnits="userSpaceOnUse" x1="406.5" y1="213.5" x2="447.7" y2="186.5"><stop offset="0" stop-color="#003000"/><stop offset="1" stop-color="#00df00"/></linearGradient><linearGradient id="g265" gradientUnits="userSpaceOnUse" x1="525.7" y1="213.5" x2="468.3" y2="226.4"><stop offset="0" stop-color="#100000"/><stop offset="1" stop-color="#ff0000"/></linearGradient><linearGradient id="g266" gradientUnits="userSpaceOnUse" x1="465.4" y1="213.5" x2="505.5" y2="185.0"><stop offset="0" stop-color="#00df00"/><stop offset="1" stop-color="#00ff00"/></linearGradient><linearGradient id="g267" gradientUnits="userSpaceOnUse" x1="465.4" y1="213.5" x2="522.8" y2="200.6"><stop offset="0" stop-color="#000000"/><stop offset="1" stop-color="#0000ef"/></linearGradient><linearGradient id="g268" gradientUnits="userSpaceOnUse" x1="525.7" y1="213.5" x2="472.3" y2="232.7"><stop offset="0" stop-color="#100000"/><stop offset="1" stop-color="#ff0000"/></linearGradient><linearGradient id="g269" gradientUnits="userSpaceOnUse" x1="465.4" y1="213.5" x2="505.2" y2="242.1"><stop offset="0" stop-color="#00df00"/><stop offset="1" stop-color="#00ff00"/></linearGradient><linearGradient id="g270" gradientUnits="userSpaceOnUse" x1="465.4" y1="213.5" x2="518.8" y2="194.3"><stop offset="0" stop-color="#000000"/><stop offset="1" stop-color="#0000ef"/></linearGradient><linearGradient id="g271" gradientUnits="userSpaceOnUse" x1="406.5" y1="213.5" x2="454.8" y2="190.9"><stop offset="0" stop-color="#003000"/><stop offset="1" stop-color="#00df00"/></linearGradient><linearGradient id="g272" gradientUnits="userSpaceOnUse" x1="490.9" y1="262.0" x2="450.8" y2="236.5"><stop offset="0" stop-color="#df0000"/><stop offset="1" stop-color="#ff0000"/></linearGradient><linearGradient id="g273" gradientUnits="userSpaceOnUse" x1="434.6" y1="262.0" x2="485.3" y2="245.2"><stop offset="0" stop-color="#004000"/><stop offset="1" stop-color="#00ff00"/></linearGradient><linearGradient id="g274" gradientUnits="userSpaceOnUse" x1="465.4" y1="213.5" x2="505.5" y2="239.0"><stop offset="0" stop-color="#000000"/><stop offset="1" stop-color="#000020"/></linearGradient><linearGradient id="g275" gradientUnits="userSpaceOnUse" x1="97.6" y1="554.0" x2="97.6" y2="505.2"><stop offset="0" stop-color="#000000"/><stop offset="1" stop-color="#001000"/></linearGradient><linearGradient id="g276" gradientUnits="userSpaceOnUse" x1="97.6" y1="554.0" x2="97.6" y2="505.2"><stop offset="0" stop-color="#00008f"/><stop offset="1" stop-color="#0000ff"/></linearGradient><linearGradient id="g277" gradientUnits="userSpaceOnUse" x1="97.6" y1="554.0" x2="129.4" y2="521.5"><stop offset="0" stop-color="#000000"/><stop offset="1" stop-color="#001000"/></linearGradient><linearGradient id="g278" gradientUnits="userSpaceOnUse" x1="97.6" y1="554.0" x2="129.4" y2="521.5"><stop offset="0" stop-color="#00008f"/><stop offset="1" stop-color="#0000ff"/></linearGradient><linearGradient id="g279" gradientUnits="userSpaceOnUse" x1="48.0" y1="505.6" x2="93.3" y2="505.6"><stop offset="0" stop-color="#000000"/><stop offset="1" stop-color="#004000"/></linearGradient><linearGradient id="g280" gradientUnits="userSpaceOnUse" x1="48.0" y1="505.6" x2="93.3" y2="505.6"><stop offset="0" stop-color="#00008f"/><stop offset="1" stop-color="#0000ff"/></linearGradient><linearGradient id="g281" gradientUnits="userSpaceOnUse" x1="48.0" y1="505.6" x2="60.6" y2="449.0"><stop offset="0" stop-color="#000000"/><stop offset="1" stop-color="#004000"/></linearGradient><linearGradient id="g282" gradientUnits="userSpaceOnUse" x1="48.0" y1="505.6" x2="104.0" y2="483.4"><stop offset="0" stop-color="#00008f"/><stop offset="1" stop-color="#0000ff"/></linearGradient><linearGradient id="g283" gradientUnits="userSpaceOnUse" x1="146.7" y1="456.3" x2="191.0" y2="432.7"><stop offset="0" stop-color="#000000"/><stop offset="1" stop-color="#700000"/></linearGradient><linearGradient id="g284" gradientUnits="userSpaceOnUse" x1="172.8" y1="505.2" x2="178.0" y2="453.7"><stop offset="0" stop-color="#007000"/><stop offset="1" stop-color="#00ff00"/></linearGradient><linearGradient id="g285" gradientUnits="userSpaceOnUse" x1="203.6" y1="456.3" x2="159.3" y2="479.9"><stop offset="0" stop-color="#00008f"/><stop offset="1" stop-color="#0000ff"/></linearGradient><linearGradient id="g286" gradientUnits="userSpaceOnUse" x1="231.2" y1="505.2" x2="231.2" y2="456.3"><stop offset="0" stop-color="#000000"/><stop offset="1" stop-color="#700000"/></linearGradient><linearGradient id="g287" gradientUnits="userSpaceOnUse" x1="172.8" y1="505.2" x2="197.9" y2="453.5"><stop offset="0" stop-color="#007000"/><stop offset="1" stop-color="#00ff00"/></linearGradient><linearGradient id="g288" gradientUnits="userSpaceOnUse" x1="203.6" y1="456.3" x2="203.6" y2="505.2"><stop offset="0" stop-color="#00008f"/><stop offset="1" stop-color="#0000ff"/></linearGradient><linearGradient id="g289" gradientUnits="userSpaceOnUse" x1="146.7" y1="456.3" x2="176.7" y2="411.3"><stop offset="0" stop-color="#000000"/><stop offset="1" stop-color="#bf0000"/></linearGradient><linearGradient id="g290" gradientUnits="userSpaceOnUse" x1="146.7" y1="456.3" x2="186.4" y2="430.2"><stop offset="0" stop-color="#00ef00"/><stop offset="1" stop-color="#00ff00"/></linearGradient><linearGradient id="g291" gradientUnits="userSpaceOnUse" x1="171.8" y1="408.0" x2="141.8" y2="453.0"><stop offset="0" stop-color="#000040"/><stop offset="1" stop-color="#0000ff"/></linearGradient><linearGradient id="g292" gradientUnits="userSpaceOnUse" x1="589.0" y1="113.0" x2="527.7" y2="130.1"><stop offset="0" stop-color="#000000"/><stop offset="1" stop-color="#008f00"/></linearGradient><linearGradient id="g293" gradientUnits="userSpaceOnUse" x1="589.0" y1="113.0" x2="533.0" y2="137.3"><stop offset="0" stop-color="#00008f"/><stop offset="1" stop-color="#0000ff"/></linearGradient><linearGradient id="g294" gradientUnits="userSpaceOnUse" x1="544.1" y1="162.8" x2="508.9" y2="195.3"><stop offset="0" stop-color="#000000"/><stop offset="1" stop-color="#100000"/></linearGradient><linearGradient id="g295" gradientUnits="userSpaceOnUse" x1="589.0" y1="211.5" x2="529.4" y2="227.4"><stop offset="0" stop-color="#000000"/><stop offset="1" stop-color="#00ff00"/></linearGradient><linearGradient id="g296" gradientUnits="userSpaceOnUse" x1="589.0" y1="211.5" x2="534.1" y2="180.4"><stop offset="0" stop-color="#00008f"/><stop offset="1" stop-color="#0000ff"/></linearGradient><linearGradient id="g297" gradientUnits="userSpaceOnUse" x1="523.6" y1="115.5" x2="478.0" y2="135.3"><stop offset="0" stop-color="#000000"/><stop offset="1" stop-color="#700000"/></linearGradient><linearGradient id="g298" gradientUnits="userSpaceOnUse" x1="544.1" y1="162.8" x2="494.3" y2="177.3"><stop offset="0" stop-color="#008000"/><stop offset="1" stop-color="#00ff00"/></linearGradient><linearGradient id="g299" gradientUnits="userSpaceOnUse" x1="490.4" y1="163.8" x2="536.0" y2="144.0"><stop offset="0" stop-color="#00008f"/><stop offset="1" stop-color="#0000ff"/></linearGradient><linearGradient id="g300" gradientUnits="userSpaceOnUse" x1="544.1" y1="162.8" x2="492.9" y2="151.9"><stop offset="0" stop-color="#000000"/><stop offset="1" stop-color="#700000"/></linearGradient><linearGradient id="g301" gradientUnits="userSpaceOnUse" x1="544.1" y1="162.8" x2="507.9" y2="188.5"><stop offset="0" stop-color="#008000"/><stop offset="1" stop-color="#00ff00"/></linearGradient><linearGradient id="g302" gradientUnits="userSpaceOnUse" x1="490.4" y1="163.8" x2="541.6" y2="174.7"><stop offset="0" stop-color="#00008f"/><stop offset="1" stop-color="#0000ff"/></linearGradient><linearGradient id="g303" gradientUnits="userSpaceOnUse" x1="496.3" y1="14.0" x2="496.3" y2="66.7"><stop offset="0" stop-color="#000000"/><stop offset="1" stop-color="#006000"/></linearGradient><linearGradient id="g304" gradientUnits="userSpaceOnUse" x1="496.3" y1="14.0" x2="496.3" y2="66.7"><stop offset="0" stop-color="#00008f"/><stop offset="1" stop-color="#0000ff"/></linearGradient><linearGradient id="g305" gradientUnits="userSpaceOnUse" x1="496.3" y1="14.0" x2="463.6" y2="40.4"><stop offset="0" stop-color="#000000"/><stop offset="1" stop-color="#006000"/></linearGradient><linearGradient id="g306" gradientUnits="userSpaceOnUse" x1="496.3" y1="14.0" x2="496.3" y2="66.7"><stop offset="0" stop-color="#00008f"/><stop offset="1" stop-color="#0000ff"/></linearGradient><linearGradient id="g307" gradientUnits="userSpaceOnUse" x1="538.9" y1="66.7" x2="510.1" y2="105.5"><stop offset="0" stop-color="#000000"/><stop offset="1" stop-color="#008f00"/></linearGradient><linearGradient id="g308" gradientUnits="userSpaceOnUse" x1="290.0" y1="115.5" x2="290.0" y2="165.2"><stop offset="0" stop-color="#ef0000"/><stop offset="1" stop-color="#ff0000"/></linearGradient><linearGradient id="g309" gradientUnits="userSpaceOnUse" x1="318.7" y1="165.2" x2="318.7" y2="115.5"><stop offset="0" stop-color="#004000"/><stop offset="1" stop-color="#00ff00"/></linearGradient><linearGradient id="g310" gradientUnits="userSpaceOnUse" x1="318.7" y1="165.2" x2="318.7" y2="115.5"><stop offset="0" stop-color="#000000"/><stop offset="1" stop-color="#000010"/></linearGradient><linearGradient id="g311" gradientUnits="userSpaceOnUse" x1="348.0" y1="213.5" x2="347.8" y2="165.1"><stop offset="0" stop-color="#cf0000"/><stop offset="1" stop-color="#ff0000"/></linearGradient><linearGradient id="g312" gradientUnits="userSpaceOnUse" x1="348.0" y1="213.5" x2="371.1" y2="162.8"><stop offset="0" stop-color="#000000"/><stop offset="1" stop-color="#007000"/></linearGradient><linearGradient id="g313" gradientUnits="userSpaceOnUse" x1="348.0" y1="115.5" x2="348.2" y2="165.1"><stop offset="0" stop-color="#ef0000"/><stop offset="1" stop-color="#ff0000"/></linearGradient><linearGradient id="g314" gradientUnits="userSpaceOnUse" x1="318.7" y1="165.2" x2="331.8" y2="111.5"><stop offset="0" stop-color="#004000"/><stop offset="1" stop-color="#00ff00"/></linearGradient><linearGradient id="g315" gradientUnits="userSpaceOnUse" x1="318.7" y1="165.2" x2="318.5" y2="115.6"><stop offset="0" stop-color="#000000"/><stop offset="1" stop-color="#000010"/></linearGradient><linearGradient id="g316" gradientUnits="userSpaceOnUse" x1="348.0" y1="213.5" x2="348.0" y2="165.2"><stop offset="0" stop-color="#cf0000"/><stop offset="1" stop-color="#ff0000"/></linearGradient><linearGradient id="g317" gradientUnits="userSpaceOnUse" x1="348.0" y1="213.5" x2="348.0" y2="165.2"><stop offset="0" stop-color="#000000"/><stop offset="1" stop-color="#004000"/></linearGradient><linearGradient id="g318" gradientUnits="userSpaceOnUse" x1="289.4" y1="213.5" x2="289.4" y2="165.2"><stop offset="0" stop-color="#cf0000"/><stop offset="1" stop-color="#ff0000"/></linearGradient><linearGradient id="g319" gradientUnits="userSpaceOnUse" x1="289.4" y1="213.5" x2="266.4" y2="162.6"><stop offset="0" stop-color="#000000"/><stop offset="1" stop-color="#007000"/></linearGradient><linearGradient id="g320" gradientUnits="userSpaceOnUse" x1="290.0" y1="115.5" x2="290.0" y2="165.2"><stop offset="0" stop-color="#ef0000"/><stop offset="1" stop-color="#ff0000"/></linearGradient><linearGradient id="g321" gradientUnits="userSpaceOnUse" x1="318.7" y1="165.2" x2="305.6" y2="111.7"><stop offset="0" stop-color="#004000"/><stop offset="1" stop-color="#00ff00"/></linearGradient><linearGradient id="g322" gradientUnits="userSpaceOnUse" x1="318.7" y1="165.2" x2="318.7" y2="115.5"><stop offset="0" stop-color="#000000"/><stop offset="1" stop-color="#000010"/></linearGradient><linearGradient id="g323" gradientUnits="userSpaceOnUse" x1="490.4" y1="456.3" x2="460.7" y2="411.5"><stop offset="0" stop-color="#000000"/><stop offset="1" stop-color="#bf0000"/></linearGradient><linearGradient id="g324" gradientUnits="userSpaceOnUse" x1="490.4" y1="456.3" x2="451.2" y2="430.1"><stop offset="0" stop-color="#00ef00"/><stop offset="1" stop-color="#00ff00"/></linearGradient><linearGradient id="g325" gradientUnits="userSpaceOnUse" x1="466.0" y1="408.0" x2="495.7" y2="452.8"><stop offset="0" stop-color="#000040"/><stop offset="1" stop-color="#0000ff"/></linearGradient><linearGradient id="g326" gradientUnits="userSpaceOnUse" x1="490.4" y1="456.3" x2="445.9" y2="433.0"><stop offset="0" stop-color="#000000"/><stop offset="1" stop-color="#700000"/></linearGradient><linearGradient id="g327" gradientUnits="userSpaceOnUse" x1="464.8" y1="505.2" x2="459.5" y2="453.7"><stop offset="0" stop-color="#007000"/><stop offset="1" stop-color="#00ff00"/></linearGradient><linearGradient id="g328" gradientUnits="userSpaceOnUse" x1="433.7" y1="456.3" x2="478.2" y2="479.6"><stop offset="0" stop-color="#00008f"/><stop offset="1" stop-color="#0000ff"/></linearGradient><linearGradient id="g329" gradientUnits="userSpaceOnUse" x1="525.7" y1="408.0" x2="486.8" y2="379.6"><stop offset="0" stop-color="#000000"/><stop offset="1" stop-color="#bf0000"/></linearGradient><linearGradient id="g330" gradientUnits="userSpaceOnUse" x1="525.7" y1="408.0" x2="466.5" y2="413.5"><stop offset="0" stop-color="#00cf00"/><stop offset="1" stop-color="#00ff00"/></linearGradient><linearGradient id="g331" gradientUnits="userSpaceOnUse" x1="466.0" y1="408.0" x2="504.9" y2="436.4"><stop offset="0" stop-color="#000040"/><stop offset="1" stop-color="#0000ff"/></linearGradient><linearGradient id="g332" gradientUnits="userSpaceOnUse" x1="543.7" y1="456.3" x2="502.1" y2="434.2"><stop offset="0" stop-color="#004000"/><stop offset="1" stop-color="#00ef00"/></linearGradient><linearGradient id="g333" gradientUnits="userSpaceOnUse" x1="524.7" y1="505.2" x2="478.6" y2="473.6"><stop offset="0" stop-color="#001000"/><stop offset="1" stop-color="#00ef00"/></linearGradient><linearGradient id="g334" gradientUnits="userSpaceOnUse" x1="524.7" y1="505.2" x2="500.0" y2="451.9"><stop offset="0" stop-color="#001000"/><stop offset="1" stop-color="#00ef00"/></linearGradient><linearGradient id="g335" gradientUnits="userSpaceOnUse" x1="230.4" y1="310.3" x2="230.4" y2="359.4"><stop offset="0" stop-color="#ef0000"/><stop offset="1" stop-color="#ff0000"/></linearGradient><linearGradient id="g336" gradientUnits="userSpaceOnUse" x1="260.5" y1="359.4" x2="218.7" y2="385.0"><stop offset="0" stop-color="#000000"/><stop offset="1" stop-color="#008000"/></linearGradient><linearGradient id="g337" gradientUnits="userSpaceOnUse" x1="146.7" y1="359.4" x2="186.5" y2="333.8"><stop offset="0" stop-color="#af0000"/><stop offset="1" stop-color="#ff0000"/></linearGradient><linearGradient id="g338" gradientUnits="userSpaceOnUse" x1="203.0" y1="359.4" x2="149.2" y2="370.9"><stop offset="0" stop-color="#008000"/><stop offset="1" stop-color="#00ff00"/></linearGradient><linearGradient id="g339" gradientUnits="userSpaceOnUse" x1="171.4" y1="310.3" x2="131.6" y2="335.9"><stop offset="0" stop-color="#000000"/><stop offset="1" stop-color="#000050"/></linearGradient><linearGradient id="g340" gradientUnits="userSpaceOnUse" x1="230.4" y1="310.3" x2="188.7" y2="337.2"><stop offset="0" stop-color="#ef0000"/><stop offset="1" stop-color="#ff0000"/></linearGradient><linearGradient id="g341" gradientUnits="userSpaceOnUse" x1="230.4" y1="310.3" x2="176.8" y2="327.2"><stop offset="0" stop-color="#000000"/><stop offset="1" stop-color="#00af00"/></linearGradient><linearGradient id="g342" gradientUnits="userSpaceOnUse" x1="146.7" y1="359.4" x2="198.8" y2="344.6"><stop offset="0" stop-color="#af0000"/><stop offset="1" stop-color="#ff0000"/></linearGradient><linearGradient id="g343" gradientUnits="userSpaceOnUse" x1="203.0" y1="359.4" x2="158.6" y2="382.4"><stop offset="0" stop-color="#008000"/><stop offset="1" stop-color="#00ff00"/></linearGradient><linearGradient id="g344" gradientUnits="userSpaceOnUse" x1="203.0" y1="359.4" x2="150.9" y2="374.2"><stop offset="0" stop-color="#000000"/><stop offset="1" stop-color="#000050"/></linearGradient><linearGradient id="g345" gradientUnits="userSpaceOnUse" x1="490.9" y1="359.4" x2="450.9" y2="333.8"><stop offset="0" stop-color="#af0000"/><stop offset="1" stop-color="#ff0000"/></linearGradient><linearGradient id="g346" gradientUnits="userSpaceOnUse" x1="434.6" y1="359.4" x2="488.5" y2="370.7"><stop offset="0" stop-color="#008000"/><stop offset="1" stop-color="#00ff00"/></linearGradient><linearGradient id="g347" gradientUnits="userSpaceOnUse" x1="434.6" y1="359.4" x2="474.6" y2="385.0"><stop offset="0" stop-color="#000000"/><stop offset="1" stop-color="#000050"/></linearGradient><linearGradient id="g348" gradientUnits="userSpaceOnUse" x1="490.9" y1="359.4" x2="438.7" y2="344.8"><stop offset="0" stop-color="#af0000"/><stop offset="1" stop-color="#ff0000"/></linearGradient><linearGradient id="g349" gradientUnits="userSpaceOnUse" x1="434.6" y1="359.4" x2="479.2" y2="382.2"><stop offset="0" stop-color="#008000"/><stop offset="1" stop-color="#00ff00"/></linearGradient><linearGradient id="g350" gradientUnits="userSpaceOnUse" x1="434.6" y1="359.4" x2="486.8" y2="374.0"><stop offset="0" stop-color="#000000"/><stop offset="1" stop-color="#000050"/></linearGradient><linearGradient id="g351" gradientUnits="userSpaceOnUse" x1="525.7" y1="408.0" x2="474.6" y2="387.0"><stop offset="0" stop-color="#000000"/><stop offset="1" stop-color="#bf0000"/></linearGradient><linearGradient id="g352" gradientUnits="userSpaceOnUse" x1="525.7" y1="408.0" x2="478.4" y2="383.8"><stop offset="0" stop-color="#00cf00"/><stop offset="1" stop-color="#00ff00"/></linearGradient><linearGradient id="g353" gradientUnits="userSpaceOnUse" x1="466.0" y1="408.0" x2="517.1" y2="429.0"><stop offset="0" stop-color="#000040"/><stop offset="1" stop-color="#0000ff"/></linearGradient><linearGradient id="g354" gradientUnits="userSpaceOnUse" x1="525.7" y1="310.3" x2="466.3" y2="314.6"><stop offset="0" stop-color="#200000"/><stop offset="1" stop-color="#ff0000"/></linearGradient><linearGradient id="g355" gradientUnits="userSpaceOnUse" x1="466.0" y1="310.3" x2="505.7" y2="338.5"><stop offset="0" stop-color="#00af00"/><stop offset="1" stop-color="#00ff00"/></linearGradient><linearGradient id="g356" gradientUnits="userSpaceOnUse" x1="466.0" y1="310.3" x2="525.4" y2="306.0"><stop offset="0" stop-color="#000000"/><stop offset="1" stop-color="#0000df"/></linearGradient><linearGradient id="g357" gradientUnits="userSpaceOnUse" x1="376.6" y1="359.4" x2="415.5" y2="399.3"><stop offset="0" stop-color="#000000"/><stop offset="1" stop-color="#00af00"/></linearGradient><linearGradient id="g358" gradientUnits="userSpaceOnUse" x1="433.7" y1="456.3" x2="404.1" y2="409.5"><stop offset="0" stop-color="#700000"/><stop offset="1" stop-color="#ff0000"/></linearGradient><linearGradient id="g359" gradientUnits="userSpaceOnUse" x1="406.5" y1="408.0" x2="406.5" y2="456.3"><stop offset="0" stop-color="#00af00"/><stop offset="1" stop-color="#00ff00"/></linearGradient><linearGradient id="g360" gradientUnits="userSpaceOnUse" x1="406.5" y1="408.0" x2="436.1" y2="454.8"><stop offset="0" stop-color="#000000"/><stop offset="1" stop-color="#00008f"/></linearGradient><linearGradient id="g361" gradientUnits="userSpaceOnUse" x1="433.7" y1="456.3" x2="410.9" y2="406.0"><stop offset="0" stop-color="#700000"/><stop offset="1" stop-color="#ff0000"/></linearGradient><linearGradient id="g362" gradientUnits="userSpaceOnUse" x1="406.5" y1="408.0" x2="447.6" y2="435.5"><stop offset="0" stop-color="#00af00"/><stop offset="1" stop-color="#00ff00"/></linearGradient><linearGradient id="g363" gradientUnits="userSpaceOnUse" x1="406.5" y1="408.0" x2="429.3" y2="458.3"><stop offset="0" stop-color="#000000"/><stop offset="1" stop-color="#00008f"/></linearGradient><linearGradient id="g364" gradientUnits="userSpaceOnUse" x1="466.0" y1="408.0" x2="421.4" y2="382.2"><stop offset="0" stop-color="#bf0000"/><stop offset="1" stop-color="#ff0000"/></linearGradient><linearGradient id="g365" gradientUnits="userSpaceOnUse" x1="434.6" y1="359.4" x2="469.6" y2="405.3"><stop offset="0" stop-color="#008000"/><stop offset="1" stop-color="#00ff00"/></linearGradient><linearGradient id="g366" gradientUnits="userSpaceOnUse" x1="406.5" y1="408.0" x2="451.1" y2="433.8"><stop offset="0" stop-color="#000000"/><stop offset="1" stop-color="#000040"/></linearGradient><linearGradient id="g367" gradientUnits="userSpaceOnUse" x1="376.2" y1="456.3" x2="376.2" y2="408.0"><stop offset="0" stop-color="#bf0000"/><stop offset="1" stop-color="#ff0000"/></linearGradient><linearGradient id="g368" gradientUnits="userSpaceOnUse" x1="348.0" y1="408.0" x2="374.7" y2="457.1"><stop offset="0" stop-color="#006000"/><stop offset="1" stop-color="#00ff00"/></linearGradient><linearGradient id="g369" gradientUnits="userSpaceOnUse" x1="348.0" y1="408.0" x2="348.0" y2="456.3"><stop offset="0" stop-color="#000000"/><stop offset="1" stop-color="#000040"/></linearGradient><linearGradient id="g370" gradientUnits="userSpaceOnUse" x1="376.6" y1="359.4" x2="401.7" y2="410.4"><stop offset="0" stop-color="#000000"/><stop offset="1" stop-color="#00af00"/></linearGradient><linearGradient id="g371" gradientUnits="userSpaceOnUse" x1="589.0" y1="310.3" x2="544.1" y2="310.3"><stop offset="0" stop-color="#000000"/><stop offset="1" stop-color="#00bf00"/></linearGradient><linearGradient id="g372" gradientUnits="userSpaceOnUse" x1="589.0" y1="310.3" x2="544.1" y2="310.3"><stop offset="0" stop-color="#00008f"/><stop offset="1" stop-color="#0000ff"/></linearGradient><linearGradient id="g373" gradientUnits="userSpaceOnUse" x1="544.1" y1="262.0" x2="510.1" y2="293.6"><stop offset="0" stop-color="#000000"/><stop offset="1" stop-color="#200000"/></linearGradient><linearGradient id="g374" gradientUnits="userSpaceOnUse" x1="589.0" y1="310.3" x2="525.9" y2="306.9"><stop offset="0" stop-color="#000000"/><stop offset="1" stop-color="#00ff00"/></linearGradient><linearGradient id="g375" gradientUnits="userSpaceOnUse" x1="589.0" y1="310.3" x2="540.3" y2="266.2"><stop offset="0" stop-color="#00008f"/><stop offset="1" stop-color="#0000ff"/></linearGradient><linearGradient id="g376" gradientUnits="userSpaceOnUse" x1="544.1" y1="262.0" x2="493.4" y2="250.7"><stop offset="0" stop-color="#000000"/><stop offset="1" stop-color="#df0000"/></linearGradient><linearGradient id="g377" gradientUnits="userSpaceOnUse" x1="544.1" y1="262.0" x2="509.1" y2="287.2"><stop offset="0" stop-color="#00bf00"/><stop offset="1" stop-color="#00ff00"/></linearGradient><linearGradient id="g378" gradientUnits="userSpaceOnUse" x1="490.9" y1="262.0" x2="541.6" y2="273.3"><stop offset="0" stop-color="#000020"/><stop offset="1" stop-color="#0000ff"/></linearGradient><linearGradient id="g379" gradientUnits="userSpaceOnUse" x1="544.1" y1="262.0" x2="495.3" y2="276.7"><stop offset="0" stop-color="#000000"/><stop offset="1" stop-color="#df0000"/></linearGradient><linearGradient id="g380" gradientUnits="userSpaceOnUse" x1="544.1" y1="262.0" x2="509.0" y2="236.8"><stop offset="0" stop-color="#00bf00"/><stop offset="1" stop-color="#00ff00"/></linearGradient><linearGradient id="g381" gradientUnits="userSpaceOnUse" x1="490.9" y1="262.0" x2="539.7" y2="247.3"><stop offset="0" stop-color="#000020"/><stop offset="1" stop-color="#0000ff"/></linearGradient><linearGradient id="g382" gradientUnits="userSpaceOnUse" x1="589.0" y1="211.5" x2="544.1" y2="211.5"><stop offset="0" stop-color="#000000"/><stop offset="1" stop-color="#00bf00"/></linearGradient><linearGradient id="g383" gradientUnits="userSpaceOnUse" x1="589.0" y1="211.5" x2="544.1" y2="211.5"><stop offset="0" stop-color="#00008f"/><stop offset="1" stop-color="#0000ff"/></linearGradient><linearGradient id="g384" gradientUnits="userSpaceOnUse" x1="544.1" y1="262.0" x2="509.7" y2="231.5"><stop offset="0" stop-color="#000000"/><stop offset="1" stop-color="#100000"/></linearGradient><linearGradient id="g385" gradientUnits="userSpaceOnUse" x1="589.0" y1="211.5" x2="525.8" y2="214.8"><stop offset="0" stop-color="#000000"/><stop offset="1" stop-color="#00ff00"/></linearGradient><linearGradient id="g386" gradientUnits="userSpaceOnUse" x1="589.0" y1="211.5" x2="533.7" y2="244.7"><stop offset="0" stop-color="#00008f"/><stop offset="1" stop-color="#0000ff"/></linearGradient><linearGradient id="g387" gradientUnits="userSpaceOnUse" x1="589.0" y1="408.0" x2="526.1" y2="403.1"><stop offset="0" stop-color="#000000"/><stop offset="1" stop-color="#00cf00"/></linearGradient><linearGradient id="g388" gradientUnits="userSpaceOnUse" x1="589.0" y1="408.0" x2="533.6" y2="387.0"><stop offset="0" stop-color="#00008f"/><stop offset="1" stop-color="#0000ff"/></linearGradient><linearGradient id="g389" gradientUnits="userSpaceOnUse" x1="544.1" y1="359.4" x2="509.6" y2="327.9"><stop offset="0" stop-color="#000000"/><stop offset="1" stop-color="#200000"/></linearGradient><linearGradient id="g390" gradientUnits="userSpaceOnUse" x1="589.0" y1="310.3" x2="526.4" y2="303.5"><stop offset="0" stop-color="#000000"/><stop offset="1" stop-color="#00ff00"/></linearGradient><linearGradient id="g391" gradientUnits="userSpaceOnUse" x1="589.0" y1="310.3" x2="539.6" y2="354.3"><stop offset="0" stop-color="#00008f"/><stop offset="1" stop-color="#0000ff"/></linearGradient><linearGradient id="g392" gradientUnits="userSpaceOnUse" x1="544.1" y1="359.4" x2="497.6" y2="341.8"><stop offset="0" stop-color="#000000"/><stop offset="1" stop-color="#af0000"/></linearGradient><linearGradient id="g393" gradientUnits="userSpaceOnUse" x1="544.1" y1="359.4" x2="492.4" y2="368.1"><stop offset="0" stop-color="#009f00"/><stop offset="1" stop-color="#00ff00"/></linearGradient><linearGradient id="g394" gradientUnits="userSpaceOnUse" x1="490.9" y1="359.4" x2="537.4" y2="377.0"><stop offset="0" stop-color="#000050"/><stop offset="1" stop-color="#0000ff"/></linearGradient><linearGradient id="g395" gradientUnits="userSpaceOnUse" x1="544.1" y1="359.4" x2="492.5" y2="368.6"><stop offset="0" stop-color="#000000"/><stop offset="1" stop-color="#af0000"/></linearGradient><linearGradient id="g396" gradientUnits="userSpaceOnUse" x1="544.1" y1="359.4" x2="508.7" y2="334.3"><stop offset="0" stop-color="#009f00"/><stop offset="1" stop-color="#00ff00"/></linearGradient><linearGradient id="g397" gradientUnits="userSpaceOnUse" x1="490.9" y1="359.4" x2="542.5" y2="350.2"><stop offset="0" stop-color="#000050"/><stop offset="1" stop-color="#0000ff"/></linearGradient><linearGradient id="g398" gradientUnits="userSpaceOnUse" x1="231.2" y1="505.2" x2="231.2" y2="456.3"><stop offset="0" stop-color="#000000"/><stop offset="1" stop-color="#bf0000"/></linearGradient><linearGradient id="g399" gradientUnits="userSpaceOnUse" x1="231.2" y1="505.2" x2="253.1" y2="453.0"><stop offset="0" stop-color="#00af00"/><stop offset="1" stop-color="#00ff00"/></linearGradient><linearGradient id="g400" gradientUnits="userSpaceOnUse" x1="261.1" y1="456.3" x2="261.1" y2="505.2"><stop offset="0" stop-color="#000040"/><stop offset="1" stop-color="#0000ff"/></linearGradient><linearGradient id="g401" gradientUnits="userSpaceOnUse" x1="231.2" y1="505.2" x2="254.6" y2="453.4"><stop offset="0" stop-color="#000000"/><stop offset="1" stop-color="#bf0000"/></linearGradient><linearGradient id="g402" gradientUnits="userSpaceOnUse" x1="231.2" y1="505.2" x2="231.2" y2="456.3"><stop offset="0" stop-color="#00af00"/><stop offset="1" stop-color="#00ff00"/></linearGradient><linearGradient id="g403" gradientUnits="userSpaceOnUse" x1="261.1" y1="456.3" x2="237.7" y2="508.1"><stop offset="0" stop-color="#000040"/><stop offset="1" stop-color="#0000ff"/></linearGradient><linearGradient id="g404" gradientUnits="userSpaceOnUse" x1="289.8" y1="505.2" x2="296.6" y2="453.4"><stop offset="0" stop-color="#000000"/><stop offset="1" stop-color="#df0000"/></linearGradient><linearGradient id="g405" gradientUnits="userSpaceOnUse" x1="289.8" y1="505.2" x2="289.8" y2="456.3"><stop offset="0" stop-color="#00cf00"/><stop offset="1" stop-color="#00ff00"/></linearGradient><linearGradient id="g406" gradientUnits="userSpaceOnUse" x1="318.7" y1="456.3" x2="311.9" y2="508.1"><stop offset="0" stop-color="#000020"/><stop offset="1" stop-color="#0000ff"/></linearGradient><linearGradient id="g407" gradientUnits="userSpaceOnUse" x1="589.0" y1="162.1" x2="544.1" y2="162.1"><stop offset="0" stop-color="#000000"/><stop offset="1" stop-color="#008000"/></linearGradient><linearGradient id="g408" gradientUnits="userSpaceOnUse" x1="589.0" y1="162.1" x2="544.1" y2="162.1"><stop offset="0" stop-color="#00008f"/><stop offset="1" stop-color="#0000ff"/></linearGradient><linearGradient id="g409" gradientUnits="userSpaceOnUse" x1="589.0" y1="162.1" x2="544.1" y2="162.1"><stop offset="0" stop-color="#000000"/><stop offset="1" stop-color="#008000"/></linearGradient><linearGradient id="g410" gradientUnits="userSpaceOnUse" x1="589.0" y1="162.1" x2="544.1" y2="162.1"><stop offset="0" stop-color="#00008f"/><stop offset="1" stop-color="#0000ff"/></linearGradient><linearGradient id="g411" gradientUnits="userSpaceOnUse" x1="447.7" y1="14.0" x2="422.7" y2="63.2"><stop offset="0" stop-color="#000000"/><stop offset="1" stop-color="#00af00"/></linearGradient><linearGradient id="g412" gradientUnits="userSpaceOnUse" x1="447.7" y1="14.0" x2="447.7" y2="66.7"><stop offset="0" stop-color="#00008f"/><stop offset="1" stop-color="#0000ff"/></linearGradient><linearGradient id="g413" gradientUnits="userSpaceOnUse" x1="429.5" y1="66.7" x2="429.5" y2="115.5"><stop offset="0" stop-color="#000000"/><stop offset="1" stop-color="#af0000"/></linearGradient><linearGradient id="g414" gradientUnits="userSpaceOnUse" x1="429.5" y1="66.7" x2="398.2" y2="110.4"><stop offset="0" stop-color="#00af00"/><stop offset="1" stop-color="#00ff00"/></linearGradient><linearGradient id="g415" gradientUnits="userSpaceOnUse" x1="405.3" y1="115.5" x2="405.3" y2="66.7"><stop offset="0" stop-color="#000050"/><stop offset="1" stop-color="#0000ff"/></linearGradient><linearGradient id="g416" gradientUnits="userSpaceOnUse" x1="447.7" y1="14.0" x2="447.7" y2="66.7"><stop offset="0" stop-color="#000000"/><stop offset="1" stop-color="#00af00"/></linearGradient><linearGradient id="g417" gradientUnits="userSpaceOnUse" x1="447.7" y1="14.0" x2="447.7" y2="66.7"><stop offset="0" stop-color="#00008f"/><stop offset="1" stop-color="#0000ff"/></linearGradient><linearGradient id="g418" gradientUnits="userSpaceOnUse" x1="396.9" y1="14.0" x2="384.6" y2="69.0"><stop offset="0" stop-color="#000000"/><stop offset="1" stop-color="#00df00"/></linearGradient><linearGradient id="g419" gradientUnits="userSpaceOnUse" x1="396.9" y1="14.0" x2="396.9" y2="66.7"><stop offset="0" stop-color="#00008f"/><stop offset="1" stop-color="#0000ff"/></linearGradient><linearGradient id="g420" gradientUnits="userSpaceOnUse" x1="463.8" y1="115.5" x2="430.5" y2="162.7"><stop offset="0" stop-color="#400000"/><stop offset="1" stop-color="#ff0000"/></linearGradient><linearGradient id="g421" gradientUnits="userSpaceOnUse" x1="433.5" y1="164.8" x2="433.5" y2="115.5"><stop offset="0" stop-color="#00df00"/><stop offset="1" stop-color="#00ff00"/></linearGradient><linearGradient id="g422" gradientUnits="userSpaceOnUse" x1="433.5" y1="164.8" x2="466.8" y2="117.6"><stop offset="0" stop-color="#000000"/><stop offset="1" stop-color="#0000bf"/></linearGradient><linearGradient id="g423" gradientUnits="userSpaceOnUse" x1="463.8" y1="115.5" x2="423.3" y2="154.0"><stop offset="0" stop-color="#400000"/><stop offset="1" stop-color="#ff0000"/></linearGradient><linearGradient id="g424" gradientUnits="userSpaceOnUse" x1="433.5" y1="164.8" x2="477.6" y2="140.5"><stop offset="0" stop-color="#00df00"/><stop offset="1" stop-color="#00ff00"/></linearGradient><linearGradient id="g425" gradientUnits="userSpaceOnUse" x1="433.5" y1="164.8" x2="474.0" y2="126.3"><stop offset="0" stop-color="#000000"/><stop offset="1" stop-color="#0000bf"/></linearGradient><linearGradient id="g426" gradientUnits="userSpaceOnUse" x1="429.5" y1="66.7" x2="398.1" y2="110.3"><stop offset="0" stop-color="#000000"/><stop offset="1" stop-color="#af0000"/></linearGradient><linearGradient id="g427" gradientUnits="userSpaceOnUse" x1="429.5" y1="66.7" x2="429.5" y2="115.5"><stop offset="0" stop-color="#00af00"/><stop offset="1" stop-color="#00ff00"/></linearGradient><linearGradient id="g428" gradientUnits="userSpaceOnUse" x1="405.3" y1="115.5" x2="436.7" y2="71.9"><stop offset="0" stop-color="#000050"/><stop offset="1" stop-color="#0000ff"/></linearGradient><linearGradient id="g429" gradientUnits="userSpaceOnUse" x1="429.5" y1="66.7" x2="429.5" y2="115.5"><stop offset="0" stop-color="#000000"/><stop offset="1" stop-color="#400000"/></linearGradient><linearGradient id="g430" gradientUnits="userSpaceOnUse" x1="484.9" y1="66.7" x2="459.6" y2="113.2"><stop offset="0" stop-color="#006000"/><stop offset="1" stop-color="#00ff00"/></linearGradient><linearGradient id="g431" gradientUnits="userSpaceOnUse" x1="463.8" y1="115.5" x2="463.8" y2="66.7"><stop offset="0" stop-color="#0000bf"/><stop offset="1" stop-color="#0000ff"/></linearGradient><linearGradient id="g432" gradientUnits="userSpaceOnUse" x1="523.6" y1="115.5" x2="490.8" y2="164.1"><stop offset="0" stop-color="#000000"/><stop offset="1" stop-color="#700000"/></linearGradient><linearGradient id="g433" gradientUnits="userSpaceOnUse" x1="523.6" y1="115.5" x2="477.7" y2="140.8"><stop offset="0" stop-color="#008f00"/><stop offset="1" stop-color="#00ff00"/></linearGradient><linearGradient id="g434" gradientUnits="userSpaceOnUse" x1="490.4" y1="163.8" x2="523.2" y2="115.2"><stop offset="0" stop-color="#00008f"/><stop offset="1" stop-color="#0000ff"/></linearGradient><linearGradient id="g435" gradientUnits="userSpaceOnUse" x1="484.9" y1="66.7" x2="448.2" y2="95.8"><stop offset="0" stop-color="#000000"/><stop offset="1" stop-color="#400000"/></linearGradient><linearGradient id="g436" gradientUnits="userSpaceOnUse" x1="484.9" y1="66.7" x2="453.7" y2="107.8"><stop offset="0" stop-color="#006000"/><stop offset="1" stop-color="#00ff00"/></linearGradient><linearGradient id="g437" gradientUnits="userSpaceOnUse" x1="463.8" y1="115.5" x2="500.5" y2="86.4"><stop offset="0" stop-color="#0000bf"/><stop offset="1" stop-color="#0000ff"/></linearGradient><linearGradient id="g438" gradientUnits="userSpaceOnUse" x1="260.5" y1="359.4" x2="221.6" y2="398.9"><stop offset="0" stop-color="#000000"/><stop offset="1" stop-color="#00af00"/></linearGradient><linearGradient id="g439" gradientUnits="userSpaceOnUse" x1="203.6" y1="456.3" x2="233.2" y2="409.5"><stop offset="0" stop-color="#700000"/><stop offset="1" stop-color="#ff0000"/></linearGradient><linearGradient id="g440" gradientUnits="userSpaceOnUse" x1="230.8" y1="408.0" x2="230.8" y2="456.3"><stop offset="0" stop-color="#00af00"/><stop offset="1" stop-color="#00ff00"/></linearGradient><linearGradient id="g441" gradientUnits="userSpaceOnUse" x1="230.8" y1="408.0" x2="201.2" y2="454.8"><stop offset="0" stop-color="#000000"/><stop offset="1" stop-color="#00008f"/></linearGradient><linearGradient id="g442" gradientUnits="userSpaceOnUse" x1="203.6" y1="456.3" x2="226.6" y2="406.1"><stop offset="0" stop-color="#700000"/><stop offset="1" stop-color="#ff0000"/></linearGradient><linearGradient id="g443" gradientUnits="userSpaceOnUse" x1="230.8" y1="408.0" x2="189.6" y2="435.1"><stop offset="0" stop-color="#00af00"/><stop offset="1" stop-color="#00ff00"/></linearGradient><linearGradient id="g444" gradientUnits="userSpaceOnUse" x1="230.8" y1="408.0" x2="207.8" y2="458.2"><stop offset="0" stop-color="#000000"/><stop offset="1" stop-color="#00008f"/></linearGradient><linearGradient id="g445" gradientUnits="userSpaceOnUse" x1="171.8" y1="408.0" x2="216.3" y2="382.6"><stop offset="0" stop-color="#bf0000"/><stop offset="1" stop-color="#ff0000"/></linearGradient><linearGradient id="g446" gradientUnits="userSpaceOnUse" x1="203.0" y1="359.4" x2="167.9" y2="405.0"><stop offset="0" stop-color="#008000"/><stop offset="1" stop-color="#00ff00"/></linearGradient><linearGradient id="g447" gradientUnits="userSpaceOnUse" x1="203.0" y1="359.4" x2="158.5" y2="384.8"><stop offset="0" stop-color="#000000"/><stop offset="1" stop-color="#000040"/></linearGradient><linearGradient id="g448" gradientUnits="userSpaceOnUse" x1="589.0" y1="359.4" x2="544.1" y2="359.4"><stop offset="0" stop-color="#000000"/><stop offset="1" stop-color="#009f00"/></linearGradient><linearGradient id="g449" gradientUnits="userSpaceOnUse" x1="589.0" y1="359.4" x2="544.1" y2="359.4"><stop offset="0" stop-color="#00008f"/><stop offset="1" stop-color="#0000ff"/></linearGradient><linearGradient id="g450" gradientUnits="userSpaceOnUse" x1="589.0" y1="359.4" x2="544.1" y2="359.4"><stop offset="0" stop-color="#000000"/><stop offset="1" stop-color="#009f00"/></linearGradient><linearGradient id="g451" gradientUnits="userSpaceOnUse" x1="589.0" y1="359.4" x2="544.1" y2="359.4"><stop offset="0" stop-color="#00008f"/><stop offset="1" stop-color="#0000ff"/></linearGradient><linearGradient id="g452" gradientUnits="userSpaceOnUse" x1="261.1" y1="456.3" x2="288.3" y2="407.4"><stop offset="0" stop-color="#bf0000"/><stop offset="1" stop-color="#ff0000"/></linearGradient><linearGradient id="g453" gradientUnits="userSpaceOnUse" x1="289.4" y1="408.0" x2="289.4" y2="456.3"><stop offset="0" stop-color="#006000"/><stop offset="1" stop-color="#00ff00"/></linearGradient><linearGradient id="g454" gradientUnits="userSpaceOnUse" x1="289.4" y1="408.0" x2="262.2" y2="456.9"><stop offset="0" stop-color="#000000"/><stop offset="1" stop-color="#000040"/></linearGradient><linearGradient id="g455" gradientUnits="userSpaceOnUse" x1="318.7" y1="456.3" x2="318.7" y2="408.0"><stop offset="0" stop-color="#df0000"/><stop offset="1" stop-color="#ff0000"/></linearGradient><linearGradient id="g456" gradientUnits="userSpaceOnUse" x1="289.4" y1="408.0" x2="289.4" y2="456.3"><stop offset="0" stop-color="#006000"/><stop offset="1" stop-color="#00ff00"/></linearGradient><linearGradient id="g457" gradientUnits="userSpaceOnUse" x1="289.4" y1="408.0" x2="289.4" y2="456.3"><stop offset="0" stop-color="#000000"/><stop offset="1" stop-color="#000020"/></linearGradient><linearGradient id="g458" gradientUnits="userSpaceOnUse" x1="318.7" y1="359.4" x2="318.7" y2="408.0"><stop offset="0" stop-color="#cf0000"/><stop offset="1" stop-color="#ff0000"/></linearGradient><linearGradient id="g459" gradientUnits="userSpaceOnUse" x1="318.7" y1="359.4" x2="318.7" y2="408.0"><stop offset="0" stop-color="#000000"/><stop offset="1" stop-color="#006000"/></linearGradient><linearGradient id="g460" gradientUnits="userSpaceOnUse" x1="318.7" y1="359.4" x2="275.7" y2="385.0"><stop offset="0" stop-color="#cf0000"/><stop offset="1" stop-color="#ff0000"/></linearGradient><linearGradient id="g461" gradientUnits="userSpaceOnUse" x1="260.5" y1="359.4" x2="260.5" y2="408.0"><stop offset="0" stop-color="#000000"/><stop offset="1" stop-color="#006000"/></linearGradient><linearGradient id="g462" gradientUnits="userSpaceOnUse" x1="260.5" y1="359.4" x2="235.6" y2="410.3"><stop offset="0" stop-color="#000000"/><stop offset="1" stop-color="#00af00"/></linearGradient><linearGradient id="g463" gradientUnits="userSpaceOnUse" x1="261.1" y1="456.3" x2="261.1" y2="408.0"><stop offset="0" stop-color="#bf0000"/><stop offset="1" stop-color="#ff0000"/></linearGradient><linearGradient id="g464" gradientUnits="userSpaceOnUse" x1="289.4" y1="408.0" x2="262.7" y2="457.2"><stop offset="0" stop-color="#006000"/><stop offset="1" stop-color="#00ff00"/></linearGradient><linearGradient id="g465" gradientUnits="userSpaceOnUse" x1="230.8" y1="408.0" x2="230.8" y2="456.3"><stop offset="0" stop-color="#000000"/><stop offset="1" stop-color="#000040"/></linearGradient></defs>
<clipPath id="pc"><rect x="48.3" y="14.4" width="540.6" height="539.4"/></clipPath>
<g clip-path="url(#pc)">
<g style="isolation:isolate" shape-rendering="crispEdges">
<rect x="48.0" y="14.0" width="541.0" height="540.0" fill="#000"/>
<g style="mix-blend-mode:screen"><polygon points="260.7,165.2 230.8,213.5 203.6,164.8" fill="#ff0000"/><polygon points="260.5,262.0 289.4,213.5 318.7,262.0" fill="url(#g3)"/><polygon points="230.8,213.5 289.4,213.5 260.5,262.0" fill="url(#g4)"/><polygon points="289.4,213.5 230.8,213.5 260.7,165.2" fill="url(#g6)"/><polygon points="92.9,262.0 111.1,213.5 146.7,262.0" fill="url(#g8)"/><polygon points="348.0,505.2 318.7,456.3 376.2,456.3" fill="url(#g11)"/><polygon points="111.1,408.0 93.3,359.4 146.7,359.4" fill="url(#g24)"/><polygon points="171.8,408.0 111.1,408.0 146.7,359.4" fill="url(#g27)"/><polygon points="348.0,505.2 289.8,505.2 318.7,456.3" fill="url(#g32)"/><polygon points="230.8,213.5 171.8,213.5 203.6,164.8" fill="#ff0000"/><polygon points="111.1,213.5 171.8,213.5 146.7,262.0" fill="url(#g39)"/><polygon points="203.0,262.0 171.4,310.3 146.7,262.0" fill="url(#g42)"/><polygon points="171.4,310.3 203.0,262.0 230.4,310.3" fill="url(#g45)"/><polygon points="171.8,213.5 203.0,262.0 146.7,262.0" fill="url(#g47)"/><polygon points="203.0,262.0 171.8,213.5 230.8,213.5" fill="#ff0000"/><polygon points="230.4,310.3 203.0,262.0 260.5,262.0" fill="url(#g51)"/><polygon points="203.0,262.0 230.8,213.5 260.5,262.0" fill="url(#g53)"/><polygon points="406.5,213.5 376.0,165.0 433.5,164.8" fill="#ff0000"/><polygon points="231.8,115.5 260.7,165.2 203.6,164.8" fill="url(#g62)"/><polygon points="173.3,115.5 231.8,115.5 203.6,164.8" fill="url(#g65)"/><polygon points="48.0,212.0 111.1,213.5 92.9,262.0" fill="url(#g70)"/><polygon points="111.1,213.5 48.0,212.0 92.9,162.8" fill="url(#g75)"/><polygon points="173.3,115.5 112.8,115.5 153.0,66.7" fill="url(#g87)"/><polygon points="405.9,505.2 348.0,505.2 376.2,456.3" fill="url(#g96)"/><polygon points="376.6,262.0 406.5,213.5 434.6,262.0" fill="url(#g105)"/><polygon points="406.9,310.3 434.6,262.0 466.0,310.3" fill="#ff0000"/><polygon points="406.9,310.3 376.6,262.0 434.6,262.0" fill="url(#g108)"/><polygon points="434.6,262.0 490.9,262.0 466.0,310.3" fill="url(#g110)"/><polygon points="146.7,456.3 111.1,408.0 171.8,408.0" fill="url(#g122)"/><polygon points="48.0,310.3 111.1,310.3 93.3,359.4" fill="url(#g135)"/><polygon points="111.1,310.3 48.0,310.3 92.9,262.0" fill="url(#g138)"/><polygon points="93.3,359.4 111.1,310.3 146.7,359.4" fill="url(#g141)"/><polygon points="111.1,310.3 171.4,310.3 146.7,359.4" fill="url(#g144)"/><polygon points="111.1,310.3 92.9,262.0 146.7,262.0" fill="url(#g147)"/><polygon points="171.4,310.3 111.1,310.3 146.7,262.0" fill="url(#g150)"/><polygon points="112.8,115.5 147.1,163.6 92.9,162.8" fill="url(#g153)"/><polygon points="147.1,163.6 112.8,115.5 173.3,115.5" fill="url(#g156)"/><polygon points="147.1,163.6 111.1,213.5 92.9,162.8" fill="url(#g159)"/><polygon points="147.1,163.6 171.8,213.5 111.1,213.5" fill="url(#g162)"/><polygon points="147.1,163.6 173.3,115.5 203.6,164.8" fill="url(#g165)"/><polygon points="171.8,213.5 147.1,163.6 203.6,164.8" fill="url(#g168)"/><polygon points="376.0,165.0 405.3,115.5 433.5,164.8" fill="url(#g171)"/><polygon points="289.4,213.5 348.0,213.5 318.7,262.0" fill="url(#g174)"/><polygon points="348.0,213.5 376.6,262.0 318.7,262.0" fill="url(#g175)"/><polygon points="348.0,213.5 376.0,165.0 406.5,213.5" fill="url(#g176)"/><polygon points="376.6,262.0 348.0,213.5 406.5,213.5" fill="url(#g178)"/><polygon points="348.0,115.5 318.2,66.7 374.1,66.7" fill="url(#g180)"/><polygon points="405.3,115.5 348.0,115.5 374.1,66.7" fill="url(#g183)"/><polygon points="348.0,115.5 405.3,115.5 376.0,165.0" fill="url(#g186)"/><polygon points="318.2,66.7 290.0,115.5 263.2,66.7" fill="url(#g189)"/><polygon points="231.8,115.5 290.0,115.5 260.7,165.2" fill="url(#g192)"/><polygon points="290.0,115.5 231.8,115.5 263.2,66.7" fill="url(#g195)"/><polygon points="348.0,115.5 290.0,115.5 318.2,66.7" fill="url(#g198)"/><polygon points="231.8,115.5 207.8,66.7 263.2,66.7" fill="url(#g201)"/><polygon points="207.8,66.7 173.3,115.5 153.0,66.7" fill="url(#g210)"/><polygon points="207.8,66.7 231.8,115.5 173.3,115.5" fill="url(#g213)"/><polygon points="433.7,456.3 405.9,505.2 376.2,456.3" fill="url(#g235)"/><polygon points="433.7,456.3 464.8,505.2 405.9,505.2" fill="url(#g238)"/><polygon points="289.4,310.3 260.5,262.0 318.7,262.0" fill="url(#g241)"/><polygon points="289.4,310.3 230.4,310.3 260.5,262.0" fill="url(#g242)"/><polygon points="289.4,310.3 260.5,359.4 230.4,310.3" fill="url(#g243)"/><polygon points="260.5,359.4 289.4,310.3 318.7,359.4" fill="url(#g244)"/><polygon points="348.0,408.0 318.7,359.4 376.6,359.4" fill="url(#g245)"/><polygon points="318.7,456.3 348.0,408.0 376.2,456.3" fill="url(#g247)"/><polygon points="318.7,359.4 348.0,310.3 376.6,359.4" fill="url(#g250)"/><polygon points="376.6,262.0 348.0,310.3 318.7,262.0" fill="url(#g251)"/><polygon points="348.0,310.3 289.4,310.3 318.7,262.0" fill="url(#g252)"/><polygon points="289.4,310.3 348.0,310.3 318.7,359.4" fill="url(#g253)"/><polygon points="348.0,310.3 406.9,310.3 376.6,359.4" fill="url(#g254)"/><polygon points="406.9,310.3 348.0,310.3 376.6,262.0" fill="url(#g255)"/><polygon points="434.6,359.4 406.9,310.3 466.0,310.3" fill="#ff0000"/><polygon points="406.9,310.3 434.6,359.4 376.6,359.4" fill="#ff0000"/><polygon points="490.9,262.0 525.7,310.3 466.0,310.3" fill="url(#g258)"/><polygon points="490.4,163.8 465.4,213.5 433.5,164.8" fill="url(#g261)"/><polygon points="465.4,213.5 406.5,213.5 433.5,164.8" fill="#ff0000"/><polygon points="525.7,213.5 465.4,213.5 490.4,163.8" fill="url(#g265)"/><polygon points="465.4,213.5 525.7,213.5 490.9,262.0" fill="url(#g268)"/><polygon points="406.5,213.5 465.4,213.5 434.6,262.0" fill="#ff0000"/><polygon points="465.4,213.5 490.9,262.0 434.6,262.0" fill="url(#g272)"/><polygon points="146.7,456.3 203.6,456.3 172.8,505.2" fill="url(#g283)"/><polygon points="203.6,456.3 231.2,505.2 172.8,505.2" fill="url(#g286)"/><polygon points="203.6,456.3 146.7,456.3 171.8,408.0" fill="url(#g289)"/><polygon points="525.7,213.5 544.1,162.8 589.0,211.5" fill="url(#g294)"/><polygon points="523.6,115.5 544.1,162.8 490.4,163.8" fill="url(#g297)"/><polygon points="544.1,162.8 525.7,213.5 490.4,163.8" fill="url(#g300)"/><polygon points="318.7,165.2 290.0,115.5 348.0,115.5" fill="url(#g308)"/><polygon points="348.0,213.5 318.7,165.2 376.0,165.0" fill="url(#g311)"/><polygon points="318.7,165.2 348.0,115.5 376.0,165.0" fill="url(#g313)"/><polygon points="318.7,165.2 348.0,213.5 289.4,213.5" fill="url(#g316)"/><polygon points="318.7,165.2 289.4,213.5 260.7,165.2" fill="url(#g318)"/><polygon points="290.0,115.5 318.7,165.2 260.7,165.2" fill="url(#g320)"/><polygon points="490.4,456.3 433.7,456.3 466.0,408.0" fill="url(#g323)"/><polygon points="433.7,456.3 490.4,456.3 464.8,505.2" fill="url(#g326)"/><polygon points="525.7,408.0 490.4,456.3 466.0,408.0" fill="url(#g329)"/><polygon points="260.5,359.4 203.0,359.4 230.4,310.3" fill="url(#g335)"/><polygon points="171.4,310.3 203.0,359.4 146.7,359.4" fill="url(#g337)"/><polygon points="203.0,359.4 171.4,310.3 230.4,310.3" fill="url(#g340)"/><polygon points="203.0,359.4 171.8,408.0 146.7,359.4" fill="url(#g342)"/><polygon points="490.9,359.4 434.6,359.4 466.0,310.3" fill="url(#g345)"/><polygon points="434.6,359.4 490.9,359.4 466.0,408.0" fill="url(#g348)"/><polygon points="490.9,359.4 525.7,408.0 466.0,408.0" fill="url(#g351)"/><polygon points="525.7,310.3 490.9,359.4 466.0,310.3" fill="url(#g354)"/><polygon points="434.6,359.4 406.5,408.0 376.6,359.4" fill="#ff0000"/><polygon points="406.5,408.0 433.7,456.3 376.2,456.3" fill="url(#g358)"/><polygon points="433.7,456.3 406.5,408.0 466.0,408.0" fill="url(#g361)"/><polygon points="406.5,408.0 434.6,359.4 466.0,408.0" fill="url(#g364)"/><polygon points="348.0,408.0 406.5,408.0 376.2,456.3" fill="url(#g367)"/><polygon points="406.5,408.0 348.0,408.0 376.6,359.4" fill="#ff0000"/><polygon points="525.7,310.3 544.1,262.0 589.0,310.3" fill="url(#g373)"/><polygon points="544.1,262.0 525.7,310.3 490.9,262.0" fill="url(#g376)"/><polygon points="525.7,213.5 544.1,262.0 490.9,262.0" fill="url(#g379)"/><polygon points="544.1,262.0 525.7,213.5 589.0,211.5" fill="url(#g384)"/><polygon points="544.1,359.4 525.7,310.3 589.0,310.3" fill="url(#g389)"/><polygon points="490.9,359.4 544.1,359.4 525.7,408.0" fill="url(#g392)"/><polygon points="544.1,359.4 490.9,359.4 525.7,310.3" fill="url(#g395)"/><polygon points="231.2,505.2 261.1,456.3 289.8,505.2" fill="url(#g398)"/><polygon points="203.6,456.3 261.1,456.3 231.2,505.2" fill="url(#g401)"/><polygon points="289.8,505.2 261.1,456.3 318.7,456.3" fill="url(#g404)"/><polygon points="429.5,66.7 405.3,115.5 374.1,66.7" fill="url(#g413)"/><polygon points="405.3,115.5 463.8,115.5 433.5,164.8" fill="url(#g420)"/><polygon points="463.8,115.5 490.4,163.8 433.5,164.8" fill="url(#g423)"/><polygon points="429.5,66.7 463.8,115.5 405.3,115.5" fill="url(#g426)"/><polygon points="463.8,115.5 429.5,66.7 484.9,66.7" fill="url(#g429)"/><polygon points="463.8,115.5 523.6,115.5 490.4,163.8" fill="url(#g432)"/><polygon points="463.8,115.5 484.9,66.7 523.6,115.5" fill="url(#g435)"/><polygon points="230.8,408.0 203.0,359.4 260.5,359.4" fill="#ff0000"/><polygon points="230.8,408.0 261.1,456.3 203.6,456.3" fill="url(#g439)"/><polygon points="230.8,408.0 203.6,456.3 171.8,408.0" fill="url(#g442)"/><polygon points="203.0,359.4 230.8,408.0 171.8,408.0" fill="url(#g445)"/><polygon points="261.1,456.3 289.4,408.0 318.7,456.3" fill="url(#g452)"/><polygon points="289.4,408.0 348.0,408.0 318.7,456.3" fill="url(#g455)"/><polygon points="348.0,408.0 289.4,408.0 318.7,359.4" fill="url(#g458)"/><polygon points="289.4,408.0 260.5,359.4 318.7,359.4" fill="url(#g460)"/><polygon points="289.4,408.0 230.8,408.0 260.5,359.4" fill="#ff0000"/><polygon points="230.8,408.0 289.4,408.0 261.1,456.3" fill="url(#g463)"/></g>
<g style="mix-blend-mode:screen"><polygon points="345.9,14.0 396.9,14.0 374.1,66.7" fill="url(#g0)"/><polygon points="260.7,165.2 230.8,213.5 203.6,164.8" fill="url(#g2)"/><polygon points="230.8,213.5 289.4,213.5 260.5,262.0" fill="url(#g5)"/><polygon points="289.4,213.5 230.8,213.5 260.7,165.2" fill="url(#g7)"/><polygon points="92.9,262.0 111.1,213.5 146.7,262.0" fill="url(#g9)"/><polygon points="348.0,505.2 318.7,456.3 376.2,456.3" fill="url(#g12)"/><polygon points="92.9,262.0 48.0,310.3 48.0,261.3" fill="url(#g14)"/><polygon points="205.7,554.0 149.8,554.0 172.8,505.2" fill="url(#g16)"/><polygon points="93.3,456.3 48.0,456.5 48.0,408.0" fill="url(#g18)"/><polygon points="93.3,359.4 111.1,408.0 48.0,408.0" fill="url(#g20)"/><polygon points="111.1,408.0 93.3,456.3 48.0,408.0" fill="url(#g22)"/><polygon points="111.1,408.0 93.3,359.4 146.7,359.4" fill="url(#g25)"/><polygon points="171.8,408.0 111.1,408.0 146.7,359.4" fill="url(#g28)"/><polygon points="289.8,505.2 348.0,505.2 319.3,554.0" fill="url(#g30)"/><polygon points="348.0,505.2 289.8,505.2 318.7,456.3" fill="url(#g33)"/><polygon points="230.8,213.5 171.8,213.5 203.6,164.8" fill="url(#g38)"/><polygon points="111.1,213.5 171.8,213.5 146.7,262.0" fill="url(#g40)"/><polygon points="203.0,262.0 171.4,310.3 146.7,262.0" fill="url(#g43)"/><polygon points="171.4,310.3 203.0,262.0 230.4,310.3" fill="url(#g46)"/><polygon points="171.8,213.5 203.0,262.0 146.7,262.0" fill="url(#g48)"/><polygon points="203.0,262.0 171.8,213.5 230.8,213.5" fill="url(#g50)"/><polygon points="230.4,310.3 203.0,262.0 260.5,262.0" fill="url(#g52)"/><polygon points="203.0,262.0 230.8,213.5 260.5,262.0" fill="url(#g54)"/><polygon points="406.5,213.5 376.0,165.0 433.5,164.8" fill="url(#g55)"/><polygon points="318.2,66.7 263.2,66.7 292.9,14.0" fill="url(#g56)"/><polygon points="345.9,14.0 318.2,66.7 292.9,14.0" fill="url(#g58)"/><polygon points="318.2,66.7 345.9,14.0 374.1,66.7" fill="url(#g60)"/><polygon points="231.8,115.5 260.7,165.2 203.6,164.8" fill="url(#g63)"/><polygon points="173.3,115.5 231.8,115.5 203.6,164.8" fill="url(#g66)"/><polygon points="48.0,212.0 92.9,262.0 48.0,261.3" fill="url(#g68)"/><polygon points="48.0,212.0 111.1,213.5 92.9,262.0" fill="url(#g71)"/><polygon points="48.0,212.0 48.0,162.1 92.9,162.8" fill="url(#g73)"/><polygon points="111.1,213.5 48.0,212.0 92.9,162.8" fill="url(#g76)"/><polygon points="263.2,66.7 240.2,14.0 292.9,14.0" fill="url(#g78)"/><polygon points="48.0,162.1 48.0,112.6 92.9,162.8" fill="url(#g80)"/><polygon points="141.9,14.0 189.6,14.0 153.0,66.7" fill="url(#g82)"/><polygon points="98.6,66.7 141.9,14.0 153.0,66.7" fill="url(#g84)"/><polygon points="112.8,115.5 98.6,66.7 153.0,66.7" fill="url(#g86)"/><polygon points="173.3,115.5 112.8,115.5 153.0,66.7" fill="url(#g88)"/><polygon points="48.0,112.6 112.8,115.5 92.9,162.8" fill="url(#g90)"/><polygon points="112.8,115.5 48.0,112.6 98.6,66.7" fill="url(#g92)"/><polygon points="348.0,505.2 375.1,554.0 319.3,554.0" fill="url(#g94)"/><polygon points="405.9,505.2 348.0,505.2 376.2,456.3" fill="url(#g97)"/><polygon points="375.1,554.0 405.9,505.2 432.0,554.0" fill="url(#g99)"/><polygon points="405.9,505.2 375.1,554.0 348.0,505.2" fill="url(#g101)"/><polygon points="589.0,408.0 589.0,456.7 543.7,456.3" fill="url(#g103)"/><polygon points="376.6,262.0 406.5,213.5 434.6,262.0" fill="url(#g106)"/><polygon points="406.9,310.3 434.6,262.0 466.0,310.3" fill="url(#g107)"/><polygon points="406.9,310.3 376.6,262.0 434.6,262.0" fill="url(#g109)"/><polygon points="434.6,262.0 490.9,262.0 466.0,310.3" fill="url(#g111)"/><polygon points="48.0,359.4 93.3,359.4 48.0,408.0" fill="url(#g113)"/><polygon points="48.0,359.4 48.0,310.3 93.3,359.4" fill="url(#g115)"/><polygon points="149.8,554.0 112.7,505.2 172.8,505.2" fill="url(#g117)"/><polygon points="112.7,505.2 146.7,456.3 172.8,505.2" fill="url(#g119)"/><polygon points="146.7,456.3 112.7,505.2 93.3,456.3" fill="url(#g120)"/><polygon points="111.1,408.0 146.7,456.3 93.3,456.3" fill="url(#g121)"/><polygon points="146.7,456.3 111.1,408.0 171.8,408.0" fill="url(#g123)"/><polygon points="262.2,554.0 289.8,505.2 319.3,554.0" fill="url(#g125)"/><polygon points="231.2,505.2 205.7,554.0 172.8,505.2" fill="url(#g127)"/><polygon points="231.2,505.2 262.2,554.0 205.7,554.0" fill="url(#g129)"/><polygon points="262.2,554.0 231.2,505.2 289.8,505.2" fill="url(#g131)"/><polygon points="589.0,113.0 523.6,115.5 538.9,66.7" fill="url(#g133)"/><polygon points="48.0,310.3 111.1,310.3 93.3,359.4" fill="url(#g136)"/><polygon points="111.1,310.3 48.0,310.3 92.9,262.0" fill="url(#g139)"/><polygon points="93.3,359.4 111.1,310.3 146.7,359.4" fill="url(#g142)"/><polygon points="111.1,310.3 171.4,310.3 146.7,359.4" fill="url(#g145)"/><polygon points="111.1,310.3 92.9,262.0 146.7,262.0" fill="url(#g148)"/><polygon points="171.4,310.3 111.1,310.3 146.7,262.0" fill="url(#g151)"/><polygon points="112.8,115.5 147.1,163.6 92.9,162.8" fill="url(#g154)"/><polygon points="147.1,163.6 112.8,115.5 173.3,115.5" fill="url(#g157)"/><polygon points="147.1,163.6 111.1,213.5 92.9,162.8" fill="url(#g160)"/><polygon points="147.1,163.6 171.8,213.5 111.1,213.5" fill="url(#g163)"/><polygon points="147.1,163.6 173.3,115.5 203.6,164.8" fill="url(#g166)"/><polygon points="171.8,213.5 147.1,163.6 203.6,164.8" fill="url(#g169)"/><polygon points="376.0,165.0 405.3,115.5 433.5,164.8" fill="url(#g172)"/><polygon points="348.0,213.5 376.0,165.0 406.5,213.5" fill="url(#g177)"/><polygon points="376.6,262.0 348.0,213.5 406.5,213.5" fill="url(#g179)"/><polygon points="348.0,115.5 318.2,66.7 374.1,66.7" fill="url(#g181)"/><polygon points="405.3,115.5 348.0,115.5 374.1,66.7" fill="url(#g184)"/><polygon points="348.0,115.5 405.3,115.5 376.0,165.0" fill="url(#g187)"/><polygon points="318.2,66.7 290.0,115.5 263.2,66.7" fill="url(#g190)"/><polygon points="231.8,115.5 290.0,115.5 260.7,165.2" fill="url(#g193)"/><polygon points="290.0,115.5 231.8,115.5 263.2,66.7" fill="url(#g196)"/><polygon points="348.0,115.5 290.0,115.5 318.2,66.7" fill="url(#g199)"/><polygon points="231.8,115.5 207.8,66.7 263.2,66.7" fill="url(#g202)"/><polygon points="240.2,14.0 207.8,66.7 189.6,14.0" fill="url(#g204)"/><polygon points="207.8,66.7 240.2,14.0 263.2,66.7" fill="url(#g206)"/><polygon points="189.6,14.0 207.8,66.7 153.0,66.7" fill="url(#g208)"/><polygon points="207.8,66.7 173.3,115.5 153.0,66.7" fill="url(#g211)"/><polygon points="207.8,66.7 231.8,115.5 173.3,115.5" fill="url(#g214)"/><polygon points="464.8,505.2 487.3,554.0 432.0,554.0" fill="url(#g219)"/><polygon points="405.9,505.2 464.8,505.2 432.0,554.0" fill="url(#g221)"/><polygon points="464.8,505.2 524.7,505.2 487.3,554.0" fill="url(#g223)"/><polygon points="524.7,505.2 541.0,554.0 487.3,554.0" fill="url(#g225)"/><polygon points="589.0,505.9 541.0,554.0 524.7,505.2" fill="url(#g227)"/><polygon points="589.0,456.7 589.0,505.9 543.7,456.3" fill="url(#g229)"/><polygon points="589.0,505.9 524.7,505.2 543.7,456.3" fill="url(#g231)"/><polygon points="525.7,408.0 589.0,408.0 543.7,456.3" fill="url(#g233)"/><polygon points="433.7,456.3 405.9,505.2 376.2,456.3" fill="url(#g236)"/><polygon points="433.7,456.3 464.8,505.2 405.9,505.2" fill="url(#g239)"/><polygon points="348.0,408.0 318.7,359.4 376.6,359.4" fill="url(#g246)"/><polygon points="318.7,456.3 348.0,408.0 376.2,456.3" fill="url(#g248)"/><polygon points="434.6,359.4 406.9,310.3 466.0,310.3" fill="url(#g256)"/><polygon points="406.9,310.3 434.6,359.4 376.6,359.4" fill="url(#g257)"/><polygon points="490.9,262.0 525.7,310.3 466.0,310.3" fill="url(#g259)"/><polygon points="490.4,163.8 465.4,213.5 433.5,164.8" fill="url(#g262)"/><polygon points="465.4,213.5 406.5,213.5 433.5,164.8" fill="url(#g264)"/><polygon points="525.7,213.5 465.4,213.5 490.4,163.8" fill="url(#g266)"/><polygon points="465.4,213.5 525.7,213.5 490.9,262.0" fill="url(#g269)"/><polygon points="406.5,213.5 465.4,213.5 434.6,262.0" fill="url(#g271)"/><polygon points="465.4,213.5 490.9,262.0 434.6,262.0" fill="url(#g273)"/><polygon points="97.6,554.0 112.7,505.2 149.8,554.0" fill="url(#g275)"/><polygon points="97.6,554.0 48.0,505.6 112.7,505.2" fill="url(#g277)"/><polygon points="48.0,505.6 48.0,456.5 93.3,456.3" fill="url(#g279)"/><polygon points="112.7,505.2 48.0,505.6 93.3,456.3" fill="url(#g281)"/><polygon points="146.7,456.3 203.6,456.3 172.8,505.2" fill="url(#g284)"/><polygon points="203.6,456.3 231.2,505.2 172.8,505.2" fill="url(#g287)"/><polygon points="203.6,456.3 146.7,456.3 171.8,408.0" fill="url(#g290)"/><polygon points="544.1,162.8 523.6,115.5 589.0,113.0" fill="url(#g292)"/><polygon points="525.7,213.5 544.1,162.8 589.0,211.5" fill="url(#g295)"/><polygon points="523.6,115.5 544.1,162.8 490.4,163.8" fill="url(#g298)"/><polygon points="544.1,162.8 525.7,213.5 490.4,163.8" fill="url(#g301)"/><polygon points="496.3,14.0 484.9,66.7 447.7,14.0" fill="url(#g303)"/><polygon points="484.9,66.7 496.3,14.0 538.9,66.7" fill="url(#g305)"/><polygon points="523.6,115.5 484.9,66.7 538.9,66.7" fill="url(#g307)"/><polygon points="318.7,165.2 290.0,115.5 348.0,115.5" fill="url(#g309)"/><polygon points="348.0,213.5 318.7,165.2 376.0,165.0" fill="url(#g312)"/><polygon points="318.7,165.2 348.0,115.5 376.0,165.0" fill="url(#g314)"/><polygon points="318.7,165.2 348.0,213.5 289.4,213.5" fill="url(#g317)"/><polygon points="318.7,165.2 289.4,213.5 260.7,165.2" fill="url(#g319)"/><polygon points="290.0,115.5 318.7,165.2 260.7,165.2" fill="url(#g321)"/><polygon points="490.4,456.3 433.7,456.3 466.0,408.0" fill="url(#g324)"/><polygon points="433.7,456.3 490.4,456.3 464.8,505.2" fill="url(#g327)"/><polygon points="525.7,408.0 490.4,456.3 466.0,408.0" fill="url(#g330)"/><polygon points="490.4,456.3 525.7,408.0 543.7,456.3" fill="url(#g332)"/><polygon points="524.7,505.2 490.4,456.3 543.7,456.3" fill="url(#g333)"/><polygon points="464.8,505.2 490.4,456.3 524.7,505.2" fill="url(#g334)"/><polygon points="260.5,359.4 203.0,359.4 230.4,310.3" fill="url(#g336)"/><polygon points="171.4,310.3 203.0,359.4 146.7,359.4" fill="url(#g338)"/><polygon points="203.0,359.4 171.4,310.3 230.4,310.3" fill="url(#g341)"/><polygon points="203.0,359.4 171.8,408.0 146.7,359.4" fill="url(#g343)"/><polygon points="490.9,359.4 434.6,359.4 466.0,310.3" fill="url(#g346)"/><polygon points="434.6,359.4 490.9,359.4 466.0,408.0" fill="url(#g349)"/><polygon points="490.9,359.4 525.7,408.0 466.0,408.0" fill="url(#g352)"/><polygon points="525.7,310.3 490.9,359.4 466.0,310.3" fill="url(#g355)"/><polygon points="434.6,359.4 406.5,408.0 376.6,359.4" fill="url(#g357)"/><polygon points="406.5,408.0 433.7,456.3 376.2,456.3" fill="url(#g359)"/><polygon points="433.7,456.3 406.5,408.0 466.0,408.0" fill="url(#g362)"/><polygon points="406.5,408.0 434.6,359.4 466.0,408.0" fill="url(#g365)"/><polygon points="348.0,408.0 406.5,408.0 376.2,456.3" fill="url(#g368)"/><polygon points="406.5,408.0 348.0,408.0 376.6,359.4" fill="url(#g370)"/><polygon points="589.0,310.3 544.1,262.0 589.0,261.3" fill="url(#g371)"/><polygon points="525.7,310.3 544.1,262.0 589.0,310.3" fill="url(#g374)"/><polygon points="544.1,262.0 525.7,310.3 490.9,262.0" fill="url(#g377)"/><polygon points="525.7,213.5 544.1,262.0 490.9,262.0" fill="url(#g380)"/><polygon points="544.1,262.0 589.0,211.5 589.0,261.3" fill="url(#g382)"/><polygon points="544.1,262.0 525.7,213.5 589.0,211.5" fill="url(#g385)"/><polygon points="525.7,408.0 544.1,359.4 589.0,408.0" fill="url(#g387)"/><polygon points="544.1,359.4 525.7,310.3 589.0,310.3" fill="url(#g390)"/><polygon points="490.9,359.4 544.1,359.4 525.7,408.0" fill="url(#g393)"/><polygon points="544.1,359.4 490.9,359.4 525.7,310.3" fill="url(#g396)"/><polygon points="231.2,505.2 261.1,456.3 289.8,505.2" fill="url(#g399)"/><polygon points="203.6,456.3 261.1,456.3 231.2,505.2" fill="url(#g402)"/><polygon points="289.8,505.2 261.1,456.3 318.7,456.3" fill="url(#g405)"/><polygon points="589.0,162.1 544.1,162.8 589.0,113.0" fill="url(#g407)"/><polygon points="544.1,162.8 589.0,162.1 589.0,211.5" fill="url(#g409)"/><polygon points="484.9,66.7 429.5,66.7 447.7,14.0" fill="url(#g411)"/><polygon points="429.5,66.7 405.3,115.5 374.1,66.7" fill="url(#g414)"/><polygon points="447.7,14.0 429.5,66.7 396.9,14.0" fill="url(#g416)"/><polygon points="396.9,14.0 429.5,66.7 374.1,66.7" fill="url(#g418)"/><polygon points="405.3,115.5 463.8,115.5 433.5,164.8" fill="url(#g421)"/><polygon points="463.8,115.5 490.4,163.8 433.5,164.8" fill="url(#g424)"/><polygon points="429.5,66.7 463.8,115.5 405.3,115.5" fill="url(#g427)"/><polygon points="463.8,115.5 429.5,66.7 484.9,66.7" fill="url(#g430)"/><polygon points="463.8,115.5 523.6,115.5 490.4,163.8" fill="url(#g433)"/><polygon points="463.8,115.5 484.9,66.7 523.6,115.5" fill="url(#g436)"/><polygon points="230.8,408.0 203.0,359.4 260.5,359.4" fill="url(#g438)"/><polygon points="230.8,408.0 261.1,456.3 203.6,456.3" fill="url(#g440)"/><polygon points="230.8,408.0 203.6,456.3 171.8,408.0" fill="url(#g443)"/><polygon points="203.0,359.4 230.8,408.0 171.8,408.0" fill="url(#g446)"/><polygon points="544.1,359.4 589.0,359.4 589.0,408.0" fill="url(#g448)"/><polygon points="589.0,359.4 544.1,359.4 589.0,310.3" fill="url(#g450)"/><polygon points="261.1,456.3 289.4,408.0 318.7,456.3" fill="url(#g453)"/><polygon points="289.4,408.0 348.0,408.0 318.7,456.3" fill="url(#g456)"/><polygon points="348.0,408.0 289.4,408.0 318.7,359.4" fill="url(#g459)"/><polygon points="289.4,408.0 260.5,359.4 318.7,359.4" fill="url(#g461)"/><polygon points="289.4,408.0 230.8,408.0 260.5,359.4" fill="url(#g462)"/><polygon points="230.8,408.0 289.4,408.0 261.1,456.3" fill="url(#g464)"/></g>
<g style="mix-blend-mode:screen"><polygon points="345.9,14.0 396.9,14.0 374.1,66.7" fill="url(#g1)"/><polygon points="92.9,262.0 111.1,213.5 146.7,262.0" fill="url(#g10)"/><polygon points="348.0,505.2 318.7,456.3 376.2,456.3" fill="url(#g13)"/><polygon points="92.9,262.0 48.0,310.3 48.0,261.3" fill="url(#g15)"/><polygon points="205.7,554.0 149.8,554.0 172.8,505.2" fill="url(#g17)"/><polygon points="93.3,456.3 48.0,456.5 48.0,408.0" fill="url(#g19)"/><polygon points="93.3,359.4 111.1,408.0 48.0,408.0" fill="url(#g21)"/><polygon points="111.1,408.0 93.3,456.3 48.0,408.0" fill="url(#g23)"/><polygon points="111.1,408.0 93.3,359.4 146.7,359.4" fill="url(#g26)"/><polygon points="171.8,408.0 111.1,408.0 146.7,359.4" fill="url(#g29)"/><polygon points="289.8,505.2 348.0,505.2 319.3,554.0" fill="url(#g31)"/><polygon points="348.0,505.2 289.8,505.2 318.7,456.3" fill="url(#g34)"/><polygon points="589.0,62.5 589.0,113.0 538.9,66.7" fill="url(#g35)"/><polygon points="589.0,62.5 542.0,14.0 589.0,14.0" fill="#00008f"/><polygon points="542.0,14.0 589.0,62.5 538.9,66.7" fill="url(#g36)"/><polygon points="496.3,14.0 542.0,14.0 538.9,66.7" fill="url(#g37)"/><polygon points="111.1,213.5 171.8,213.5 146.7,262.0" fill="url(#g41)"/><polygon points="203.0,262.0 171.4,310.3 146.7,262.0" fill="url(#g44)"/><polygon points="171.8,213.5 203.0,262.0 146.7,262.0" fill="url(#g49)"/><polygon points="318.2,66.7 263.2,66.7 292.9,14.0" fill="url(#g57)"/><polygon points="345.9,14.0 318.2,66.7 292.9,14.0" fill="url(#g59)"/><polygon points="318.2,66.7 345.9,14.0 374.1,66.7" fill="url(#g61)"/><polygon points="231.8,115.5 260.7,165.2 203.6,164.8" fill="url(#g64)"/><polygon points="173.3,115.5 231.8,115.5 203.6,164.8" fill="url(#g67)"/><polygon points="48.0,212.0 92.9,262.0 48.0,261.3" fill="url(#g69)"/><polygon points="48.0,212.0 111.1,213.5 92.9,262.0" fill="url(#g72)"/><polygon points="48.0,212.0 48.0,162.1 92.9,162.8" fill="url(#g74)"/><polygon points="111.1,213.5 48.0,212.0 92.9,162.8" fill="url(#g77)"/><polygon points="263.2,66.7 240.2,14.0 292.9,14.0" fill="url(#g79)"/><polygon points="48.0,162.1 48.0,112.6 92.9,162.8" fill="url(#g81)"/><polygon points="141.9,14.0 189.6,14.0 153.0,66.7" fill="url(#g83)"/><polygon points="98.6,66.7 141.9,14.0 153.0,66.7" fill="url(#g85)"/><polygon points="112.8,115.5 98.6,66.7 153.0,66.7" fill="#0000ff"/><polygon points="173.3,115.5 112.8,115.5 153.0,66.7" fill="url(#g89)"/><polygon points="48.0,112.6 112.8,115.5 92.9,162.8" fill="url(#g91)"/><polygon points="112.8,115.5 48.0,112.6 98.6,66.7" fill="url(#g93)"/><polygon points="348.0,505.2 375.1,554.0 319.3,554.0" fill="url(#g95)"/><polygon points="405.9,505.2 348.0,505.2 376.2,456.3" fill="url(#g98)"/><polygon points="375.1,554.0 405.9,505.2 432.0,554.0" fill="url(#g100)"/><polygon points="405.9,505.2 375.1,554.0 348.0,505.2" fill="url(#g102)"/><polygon points="589.0,408.0 589.0,456.7 543.7,456.3" fill="url(#g104)"/><polygon points="434.6,262.0 490.9,262.0 466.0,310.3" fill="url(#g112)"/><polygon points="48.0,359.4 93.3,359.4 48.0,408.0" fill="url(#g114)"/><polygon points="48.0,359.4 48.0,310.3 93.3,359.4" fill="url(#g116)"/><polygon points="149.8,554.0 112.7,505.2 172.8,505.2" fill="url(#g118)"/><polygon points="112.7,505.2 146.7,456.3 172.8,505.2" fill="#0000ff"/><polygon points="146.7,456.3 112.7,505.2 93.3,456.3" fill="#0000ff"/><polygon points="111.1,408.0 146.7,456.3 93.3,456.3" fill="#0000ff"/><polygon points="146.7,456.3 111.1,408.0 171.8,408.0" fill="url(#g124)"/><polygon points="262.2,554.0 289.8,505.2 319.3,554.0" fill="url(#g126)"/><polygon points="231.2,505.2 205.7,554.0 172.8,505.2" fill="url(#g128)"/><polygon points="231.2,505.2 262.2,554.0 205.7,554.0" fill="url(#g130)"/><polygon points="262.2,554.0 231.2,505.2 289.8,505.2" fill="url(#g132)"/><polygon points="589.0,113.0 523.6,115.5 538.9,66.7" fill="url(#g134)"/><polygon points="48.0,310.3 111.1,310.3 93.3,359.4" fill="url(#g137)"/><polygon points="111.1,310.3 48.0,310.3 92.9,262.0" fill="url(#g140)"/><polygon points="93.3,359.4 111.1,310.3 146.7,359.4" fill="url(#g143)"/><polygon points="111.1,310.3 171.4,310.3 146.7,359.4" fill="url(#g146)"/><polygon points="111.1,310.3 92.9,262.0 146.7,262.0" fill="url(#g149)"/><polygon points="171.4,310.3 111.1,310.3 146.7,262.0" fill="url(#g152)"/><polygon points="112.8,115.5 147.1,163.6 92.9,162.8" fill="url(#g155)"/><polygon points="147.1,163.6 112.8,115.5 173.3,115.5" fill="url(#g158)"/><polygon points="147.1,163.6 111.1,213.5 92.9,162.8" fill="url(#g161)"/><polygon points="147.1,163.6 171.8,213.5 111.1,213.5" fill="url(#g164)"/><polygon points="147.1,163.6 173.3,115.5 203.6,164.8" fill="url(#g167)"/><polygon points="171.8,213.5 147.1,163.6 203.6,164.8" fill="url(#g170)"/><polygon points="376.0,165.0 405.3,115.5 433.5,164.8" fill="url(#g173)"/><polygon points="348.0,115.5 318.2,66.7 374.1,66.7" fill="url(#g182)"/><polygon points="405.3,115.5 348.0,115.5 374.1,66.7" fill="url(#g185)"/><polygon points="348.0,115.5 405.3,115.5 376.0,165.0" fill="url(#g188)"/><polygon points="318.2,66.7 290.0,115.5 263.2,66.7" fill="url(#g191)"/><polygon points="231.8,115.5 290.0,115.5 260.7,165.2" fill="url(#g194)"/><polygon points="290.0,115.5 231.8,115.5 263.2,66.7" fill="url(#g197)"/><polygon points="348.0,115.5 290.0,115.5 318.2,66.7" fill="url(#g200)"/><polygon points="231.8,115.5 207.8,66.7 263.2,66.7" fill="url(#g203)"/><polygon points="240.2,14.0 207.8,66.7 189.6,14.0" fill="url(#g205)"/><polygon points="207.8,66.7 240.2,14.0 263.2,66.7" fill="url(#g207)"/><polygon points="189.6,14.0 207.8,66.7 153.0,66.7" fill="url(#g209)"/><polygon points="207.8,66.7 173.3,115.5 153.0,66.7" fill="url(#g212)"/><polygon points="207.8,66.7 231.8,115.5 173.3,115.5" fill="url(#g215)"/><polygon points="48.0,112.6 48.0,61.4 98.6,66.7" fill="url(#g216)"/><polygon points="95.4,14.0 141.9,14.0 98.6,66.7" fill="url(#g217)"/><polygon points="95.4,14.0 48.0,61.4 48.0,14.0" fill="#00008f"/><polygon points="48.0,61.4 95.4,14.0 98.6,66.7" fill="url(#g218)"/><polygon points="464.8,505.2 487.3,554.0 432.0,554.0" fill="url(#g220)"/><polygon points="405.9,505.2 464.8,505.2 432.0,554.0" fill="url(#g222)"/><polygon points="464.8,505.2 524.7,505.2 487.3,554.0" fill="url(#g224)"/><polygon points="524.7,505.2 541.0,554.0 487.3,554.0" fill="url(#g226)"/><polygon points="541.0,554.0 589.0,505.9 589.0,554.0" fill="#00008f"/><polygon points="589.0,505.9 541.0,554.0 524.7,505.2" fill="url(#g228)"/><polygon points="589.0,456.7 589.0,505.9 543.7,456.3" fill="url(#g230)"/><polygon points="589.0,505.9 524.7,505.2 543.7,456.3" fill="url(#g232)"/><polygon points="525.7,408.0 589.0,408.0 543.7,456.3" fill="url(#g234)"/><polygon points="433.7,456.3 405.9,505.2 376.2,456.3" fill="url(#g237)"/><polygon points="433.7,456.3 464.8,505.2 405.9,505.2" fill="url(#g240)"/><polygon points="318.7,456.3 348.0,408.0 376.2,456.3" fill="url(#g249)"/><polygon points="490.9,262.0 525.7,310.3 466.0,310.3" fill="url(#g260)"/><polygon points="490.4,163.8 465.4,213.5 433.5,164.8" fill="url(#g263)"/><polygon points="525.7,213.5 465.4,213.5 490.4,163.8" fill="url(#g267)"/><polygon points="465.4,213.5 525.7,213.5 490.9,262.0" fill="url(#g270)"/><polygon points="465.4,213.5 490.9,262.0 434.6,262.0" fill="url(#g274)"/><polygon points="97.6,554.0 112.7,505.2 149.8,554.0" fill="url(#g276)"/><polygon points="48.0,505.6 97.6,554.0 48.0,554.0" fill="#00008f"/><polygon points="97.6,554.0 48.0,505.6 112.7,505.2" fill="url(#g278)"/><polygon points="48.0,505.6 48.0,456.5 93.3,456.3" fill="url(#g280)"/><polygon points="112.7,505.2 48.0,505.6 93.3,456.3" fill="url(#g282)"/><polygon points="146.7,456.3 203.6,456.3 172.8,505.2" fill="url(#g285)"/><polygon points="203.6,456.3 231.2,505.2 172.8,505.2" fill="url(#g288)"/><polygon points="203.6,456.3 146.7,456.3 171.8,408.0" fill="url(#g291)"/><polygon points="544.1,162.8 523.6,115.5 589.0,113.0" fill="url(#g293)"/><polygon points="525.7,213.5 544.1,162.8 589.0,211.5" fill="url(#g296)"/><polygon points="523.6,115.5 544.1,162.8 490.4,163.8" fill="url(#g299)"/><polygon points="544.1,162.8 525.7,213.5 490.4,163.8" fill="url(#g302)"/><polygon points="496.3,14.0 484.9,66.7 447.7,14.0" fill="url(#g304)"/><polygon points="484.9,66.7 496.3,14.0 538.9,66.7" fill="url(#g306)"/><polygon points="523.6,115.5 484.9,66.7 538.9,66.7" fill="#0000ff"/><polygon points="318.7,165.2 290.0,115.5 348.0,115.5" fill="url(#g310)"/><polygon points="318.7,165.2 348.0,115.5 376.0,165.0" fill="url(#g315)"/><polygon points="290.0,115.5 318.7,165.2 260.7,165.2" fill="url(#g322)"/><polygon points="490.4,456.3 433.7,456.3 466.0,408.0" fill="url(#g325)"/><polygon points="433.7,456.3 490.4,456.3 464.8,505.2" fill="url(#g328)"/><polygon points="525.7,408.0 490.4,456.3 466.0,408.0" fill="url(#g331)"/><polygon points="490.4,456.3 525.7,408.0 543.7,456.3" fill="#0000ff"/><polygon points="524.7,505.2 490.4,456.3 543.7,456.3" fill="#0000ff"/><polygon points="464.8,505.2 490.4,456.3 524.7,505.2" fill="#0000ff"/><polygon points="171.4,310.3 203.0,359.4 146.7,359.4" fill="url(#g339)"/><polygon points="203.0,359.4 171.8,408.0 146.7,359.4" fill="url(#g344)"/><polygon points="490.9,359.4 434.6,359.4 466.0,310.3" fill="url(#g347)"/><polygon points="434.6,359.4 490.9,359.4 466.0,408.0" fill="url(#g350)"/><polygon points="490.9,359.4 525.7,408.0 466.0,408.0" fill="url(#g353)"/><polygon points="525.7,310.3 490.9,359.4 466.0,310.3" fill="url(#g356)"/><polygon points="406.5,408.0 433.7,456.3 376.2,456.3" fill="url(#g360)"/><polygon points="433.7,456.3 406.5,408.0 466.0,408.0" fill="url(#g363)"/><polygon points="406.5,408.0 434.6,359.4 466.0,408.0" fill="url(#g366)"/><polygon points="348.0,408.0 406.5,408.0 376.2,456.3" fill="url(#g369)"/><polygon points="589.0,310.3 544.1,262.0 589.0,261.3" fill="url(#g372)"/><polygon points="525.7,310.3 544.1,262.0 589.0,310.3" fill="url(#g375)"/><polygon points="544.1,262.0 525.7,310.3 490.9,262.0" fill="url(#g378)"/><polygon points="525.7,213.5 544.1,262.0 490.9,262.0" fill="url(#g381)"/><polygon points="544.1,262.0 589.0,211.5 589.0,261.3" fill="url(#g383)"/><polygon points="544.1,262.0 525.7,213.5 589.0,211.5" fill="url(#g386)"/><polygon points="525.7,408.0 544.1,359.4 589.0,408.0" fill="url(#g388)"/><polygon points="544.1,359.4 525.7,310.3 589.0,310.3" fill="url(#g391)"/><polygon points="490.9,359.4 544.1,359.4 525.7,408.0" fill="url(#g394)"/><polygon points="544.1,359.4 490.9,359.4 525.7,310.3" fill="url(#g397)"/><polygon points="231.2,505.2 261.1,456.3 289.8,505.2" fill="url(#g400)"/><polygon points="203.6,456.3 261.1,456.3 231.2,505.2" fill="url(#g403)"/><polygon points="289.8,505.2 261.1,456.3 318.7,456.3" fill="url(#g406)"/><polygon points="589.0,162.1 544.1,162.8 589.0,113.0" fill="url(#g408)"/><polygon points="544.1,162.8 589.0,162.1 589.0,211.5" fill="url(#g410)"/><polygon points="484.9,66.7 429.5,66.7 447.7,14.0" fill="url(#g412)"/><polygon points="429.5,66.7 405.3,115.5 374.1,66.7" fill="url(#g415)"/><polygon points="447.7,14.0 429.5,66.7 396.9,14.0" fill="url(#g417)"/><polygon points="396.9,14.0 429.5,66.7 374.1,66.7" fill="url(#g419)"/><polygon points="405.3,115.5 463.8,115.5 433.5,164.8" fill="url(#g422)"/><polygon points="463.8,115.5 490.4,163.8 433.5,164.8" fill="url(#g425)"/><polygon points="429.5,66.7 463.8,115.5 405.3,115.5" fill="url(#g428)"/><polygon points="463.8,115.5 429.5,66.7 484.9,66.7" fill="url(#g431)"/><polygon points="463.8,115.5 523.6,115.5 490.4,163.8" fill="url(#g434)"/><polygon points="463.8,115.5 484.9,66.7 523.6,115.5" fill="url(#g437)"/><polygon points="230.8,408.0 261.1,456.3 203.6,456.3" fill="url(#g441)"/><polygon points="230.8,408.0 203.6,456.3 171.8,408.0" fill="url(#g444)"/><polygon points="203.0,359.4 230.8,408.0 171.8,408.0" fill="url(#g447)"/><polygon points="544.1,359.4 589.0,359.4 589.0,408.0" fill="url(#g449)"/><polygon points="589.0,359.4 544.1,359.4 589.0,310.3" fill="url(#g451)"/><polygon points="261.1,456.3 289.4,408.0 318.7,456.3" fill="url(#g454)"/><polygon points="289.4,408.0 348.0,408.0 318.7,456.3" fill="url(#g457)"/><polygon points="230.8,408.0 289.4,408.0 261.1,456.3" fill="url(#g465)"/></g>
</g>
<rect x="48" y="14" width="541" height="540" fill="#fff" fill-opacity="0.03"/>
<path d="M95.4 14.0L48.0 61.4M95.4 14.0L98.6 66.7M141.9 14.0L98.6 66.7M141.9 14.0L153.0 66.7M189.6 14.0L153.0 66.7M189.6 14.0L207.8 66.7M240.2 14.0L207.8 66.7M240.2 14.0L263.2 66.7M292.9 14.0L263.2 66.7M292.9 14.0L318.2 66.7M345.9 14.0L318.2 66.7M345.9 14.0L374.1 66.7M396.9 14.0L374.1 66.7M396.9 14.0L429.5 66.7M447.7 14.0L429.5 66.7M447.7 14.0L484.9 66.7M496.3 14.0L484.9 66.7M496.3 14.0L538.9 66.7M542.0 14.0L538.9 66.7M542.0 14.0L589.0 62.5M48.0 61.4L98.6 66.7M98.6 66.7L153.0 66.7M98.6 66.7L48.0 112.6M98.6 66.7L112.8 115.5M153.0 66.7L207.8 66.7M153.0 66.7L112.8 115.5M153.0 66.7L173.3 115.5M207.8 66.7L263.2 66.7M207.8 66.7L173.3 115.5M207.8 66.7L231.8 115.5M263.2 66.7L318.2 66.7M263.2 66.7L231.8 115.5M263.2 66.7L290.0 115.5M318.2 66.7L374.1 66.7M318.2 66.7L290.0 115.5M318.2 66.7L348.0 115.5M374.1 66.7L429.5 66.7M374.1 66.7L348.0 115.5M374.1 66.7L405.3 115.5M429.5 66.7L484.9 66.7M429.5 66.7L405.3 115.5M429.5 66.7L463.8 115.5M484.9 66.7L538.9 66.7M484.9 66.7L463.8 115.5M484.9 66.7L523.6 115.5M538.9 66.7L589.0 62.5M538.9 66.7L523.6 115.5M538.9 66.7L589.0 113.0M48.0 112.6L112.8 115.5M48.0 112.6L92.9 162.8M112.8 115.5L173.3 115.5M112.8 115.5L92.9 162.8M112.8 115.5L147.1 163.6M173.3 115.5L231.8 115.5M173.3 115.5L147.1 163.6M173.3 115.5L203.6 164.8M231.8 115.5L290.0 115.5M231.8 115.5L203.6 164.8M231.8 115.5L260.7 165.2M290.0 115.5L348.0 115.5M290.0 115.5L260.7 165.2M290.0 115.5L318.7 165.2M348.0 115.5L405.3 115.5M348.0 115.5L318.7 165.2M348.0 115.5L376.0 165.0M405.3 115.5L463.8 115.5M405.3 115.5L376.0 165.0M405.3 115.5L433.5 164.8M463.8 115.5L523.6 115.5M463.8 115.5L433.5 164.8M463.8 115.5L490.4 163.8M523.6 115.5L589.0 113.0M523.6 115.5L490.4 163.8M523.6 115.5L544.1 162.8M589.0 113.0L544.1 162.8M48.0 162.1L92.9 162.8M92.9 162.8L147.1 163.6M92.9 162.8L48.0 212.0M92.9 162.8L111.1 213.5M147.1 163.6L203.6 164.8M147.1 163.6L111.1 213.5M147.1 163.6L171.8 213.5M203.6 164.8L260.7 165.2M203.6 164.8L171.8 213.5M203.6 164.8L230.8 213.5M260.7 165.2L318.7 165.2M260.7 165.2L230.8 213.5M260.7 165.2L289.4 213.5M318.7 165.2L376.0 165.0M318.7 165.2L289.4 213.5M318.7 165.2L348.0 213.5M376.0 165.0L433.5 164.8M376.0 165.0L348.0 213.5M376.0 165.0L406.5 213.5M433.5 164.8L490.4 163.8M433.5 164.8L406.5 213.5M433.5 164.8L465.4 213.5M490.4 163.8L544.1 162.8M490.4 163.8L465.4 213.5M490.4 163.8L525.7 213.5M544.1 162.8L589.0 162.1M544.1 162.8L525.7 213.5M544.1 162.8L589.0 211.5M48.0 212.0L111.1 213.5M48.0 212.0L92.9 262.0M111.1 213.5L171.8 213.5M111.1 213.5L92.9 262.0M111.1 213.5L146.7 262.0M171.8 213.5L230.8 213.5M171.8 213.5L146.7 262.0M171.8 213.5L203.0 262.0M230.8 213.5L289.4 213.5M230.8 213.5L203.0 262.0M230.8 213.5L260.5 262.0M289.4 213.5L348.0 213.5M289.4 213.5L260.5 262.0M289.4 213.5L318.7 262.0M348.0 213.5L406.5 213.5M348.0 213.5L318.7 262.0M348.0 213.5L376.6 262.0M406.5 213.5L465.4 213.5M406.5 213.5L376.6 262.0M406.5 213.5L434.6 262.0M465.4 213.5L525.7 213.5M465.4 213.5L434.6 262.0M465.4 213.5L490.9 262.0M525.7 213.5L589.0 211.5M525.7 213.5L490.9 262.0M525.7 213.5L544.1 262.0M589.0 211.5L544.1 262.0M48.0 261.3L92.9 262.0M92.9 262.0L146.7 262.0M92.9 262.0L48.0 310.3M92.9 262.0L111.1 310.3M146.7 262.0L203.0 262.0M146.7 262.0L111.1 310.3M146.7 262.0L171.4 310.3M203.0 262.0L260.5 262.0M203.0 262.0L171.4 310.3M203.0 262.0L230.4 310.3M260.5 262.0L318.7 262.0M260.5 262.0L230.4 310.3M260.5 262.0L289.4 310.3M318.7 262.0L376.6 262.0M318.7 262.0L289.4 310.3M318.7 262.0L348.0 310.3M376.6 262.0L434.6 262.0M376.6 262.0L348.0 310.3M376.6 262.0L406.9 310.3M434.6 262.0L490.9 262.0M434.6 262.0L406.9 310.3M434.6 262.0L466.0 310.3M490.9 262.0L544.1 262.0M490.9 262.0L466.0 310.3M490.9 262.0L525.7 310.3M544.1 262.0L589.0 261.3M544.1 262.0L525.7 310.3M544.1 262.0L589.0 310.3M48.0 310.3L111.1 310.3M48.0 310.3L93.3 359.4M111.1 310.3L171.4 310.3M111.1 310.3L93.3 359.4M111.1 310.3L146.7 359.4M171.4 310.3L230.4 310.3M171.4 310.3L146.7 359.4M171.4 310.3L203.0 359.4M230.4 310.3L289.4 310.3M230.4 310.3L203.0 359.4M230.4 310.3L260.5 359.4M289.4 310.3L348.0 310.3M289.4 310.3L260.5 359.4M289.4 310.3L318.7 359.4M348.0 310.3L406.9 310.3M348.0 310.3L318.7 359.4M348.0 310.3L376.6 359.4M406.9 310.3L466.0 310.3M406.9 310.3L376.6 359.4M406.9 310.3L434.6 359.4M466.0 310.3L525.7 310.3M466.0 310.3L434.6 359.4M466.0 310.3L490.9 359.4M525.7 310.3L589.0 310.3M525.7 310.3L490.9 359.4M525.7 310.3L544.1 359.4M589.0 310.3L544.1 359.4M48.0 359.4L93.3 359.4M93.3 359.4L146.7 359.4M93.3 359.4L48.0 408.0M93.3 359.4L111.1 408.0M146.7 359.4L203.0 359.4M146.7 359.4L111.1 408.0M146.7 359.4L171.8 408.0M203.0 359.4L260.5 359.4M203.0 359.4L171.8 408.0M203.0 359.4L230.8 408.0M260.5 359.4L318.7 359.4M260.5 359.4L230.8 408.0M260.5 359.4L289.4 408.0M318.7 359.4L376.6 359.4M318.7 359.4L289.4 408.0M318.7 359.4L348.0 408.0M376.6 359.4L434.6 359.4M376.6 359.4L348.0 408.0M376.6 359.4L406.5 408.0M434.6 359.4L490.9 359.4M434.6 359.4L406.5 408.0M434.6 359.4L466.0 408.0M490.9 359.4L544.1 359.4M490.9 359.4L466.0 408.0M490.9 359.4L525.7 408.0M544.1 359.4L589.0 359.4M544.1 359.4L525.7 408.0M544.1 359.4L589.0 408.0M48.0 408.0L111.1 408.0M48.0 408.0L93.3 456.3M111.1 408.0L171.8 408.0M111.1 408.0L93.3 456.3M111.1 408.0L146.7 456.3M171.8 408.0L230.8 408.0M171.8 408.0L146.7 456.3M171.8 408.0L203.6 456.3M230.8 408.0L289.4 408.0M230.8 408.0L203.6 456.3M230.8 408.0L261.1 456.3M289.4 408.0L348.0 408.0M289.4 408.0L261.1 456.3M289.4 408.0L318.7 456.3M348.0 408.0L406.5 408.0M348.0 408.0L318.7 456.3M348.0 408.0L376.2 456.3M406.5 408.0L466.0 408.0M406.5 408.0L376.2 456.3M406.5 408.0L433.7 456.3M466.0 408.0L525.7 408.0M466.0 408.0L433.7 456.3M466.0 408.0L490.4 456.3M525.7 408.0L589.0 408.0M525.7 408.0L490.4 456.3M525.7 408.0L543.7 456.3M589.0 408.0L543.7 456.3M48.0 456.5L93.3 456.3M93.3 456.3L146.7 456.3M93.3 456.3L48.0 505.6M93.3 456.3L112.7 505.2M146.7 456.3L203.6 456.3M146.7 456.3L112.7 505.2M146.7 456.3L172.8 505.2M203.6 456.3L261.1 456.3M203.6 456.3L172.8 505.2M203.6 456.3L231.2 505.2M261.1 456.3L318.7 456.3M261.1 456.3L231.2 505.2M261.1 456.3L289.8 505.2M318.7 456.3L376.2 456.3M318.7 456.3L289.8 505.2M318.7 456.3L348.0 505.2M376.2 456.3L433.7 456.3M376.2 456.3L348.0 505.2M376.2 456.3L405.9 505.2M433.7 456.3L490.4 456.3M433.7 456.3L405.9 505.2M433.7 456.3L464.8 505.2M490.4 456.3L543.7 456.3M490.4 456.3L464.8 505.2M490.4 456.3L524.7 505.2M543.7 456.3L589.0 456.7M543.7 456.3L524.7 505.2M543.7 456.3L589.0 505.9M48.0 505.6L112.7 505.2M48.0 505.6L97.6 554.0M112.7 505.2L172.8 505.2M112.7 505.2L97.6 554.0M112.7 505.2L149.8 554.0M172.8 505.2L231.2 505.2M172.8 505.2L149.8 554.0M172.8 505.2L205.7 554.0M231.2 505.2L289.8 505.2M231.2 505.2L205.7 554.0M231.2 505.2L262.2 554.0M289.8 505.2L348.0 505.2M289.8 505.2L262.2 554.0M289.8 505.2L319.3 554.0M348.0 505.2L405.9 505.2M348.0 505.2L319.3 554.0M348.0 505.2L375.1 554.0M405.9 505.2L464.8 505.2M405.9 505.2L375.1 554.0M405.9 505.2L432.0 554.0M464.8 505.2L524.7 505.2M464.8 505.2L432.0 554.0M464.8 505.2L487.3 554.0M524.7 505.2L589.0 505.9M524.7 505.2L487.3 554.0M524.7 505.2L541.0 554.0M589.0 505.9L541.0 554.0" fill="none" stroke="#000" stroke-width="1.25" stroke-opacity="0.85" stroke-linecap="round"/>
</g>
<rect x="48.80" y="14.90" width="539.60" height="538.40" fill="none" stroke="#000" stroke-width="1" stroke-opacity="0.55"/>
<g shape-rendering="crispEdges"><rect x="663.4" y="545.38" width="46.5" height="8.72" fill="#00008f"/><rect x="663.4" y="536.95" width="46.5" height="8.73" fill="#00009f"/><rect x="663.4" y="528.52" width="46.5" height="8.72" fill="#0000af"/><rect x="663.4" y="520.10" width="46.5" height="8.73" fill="#0000bf"/><rect x="663.4" y="511.67" width="46.5" height="8.72" fill="#0000cf"/><rect x="663.4" y="503.25" width="46.5" height="8.73" fill="#0000df"/><rect x="663.4" y="494.82" width="46.5" height="8.73" fill="#0000ef"/><rect x="663.4" y="486.40" width="46.5" height="8.72" fill="#0000ff"/><rect x="663.4" y="477.97" width="46.5" height="8.73" fill="#0010ff"/><rect x="663.4" y="469.55" width="46.5" height="8.73" fill="#0020ff"/><rect x="663.4" y="461.12" width="46.5" height="8.72" fill="#0030ff"/><rect x="663.4" y="452.70" width="46.5" height="8.73" fill="#0040ff"/><rect x="663.4" y="444.27" width="46.5" height="8.72" fill="#0050ff"/><rect x="663.4" y="435.85" width="46.5" height="8.73" fill="#0060ff"/><rect x="663.4" y="427.42" width="46.5" height="8.73" fill="#0070ff"/><rect x="663.4" y="419.00" width="46.5" height="8.72" fill="#0080ff"/><rect x="663.4" y="410.57" width="46.5" height="8.73" fill="#008fff"/><rect x="663.4" y="402.15" width="46.5" height="8.72" fill="#009fff"/><rect x="663.4" y="393.72" width="46.5" height="8.73" fill="#00afff"/><rect x="663.4" y="385.30" width="46.5" height="8.73" fill="#00bfff"/><rect x="663.4" y="376.88" width="46.5" height="8.72" fill="#00cfff"/><rect x="663.4" y="368.45" width="46.5" height="8.73" fill="#00dfff"/><rect x="663.4" y="360.02" width="46.5" height="8.73" fill="#00efff"/><rect x="663.4" y="351.60" width="46.5" height="8.73" fill="#00ffff"/><rect x="663.4" y="343.17" width="46.5" height="8.73" fill="#10ffef"/><rect x="663.4" y="334.75" width="46.5" height="8.72" fill="#20ffdf"/><rect x="663.4" y="326.32" width="46.5" height="8.73" fill="#30ffcf"/><rect x="663.4" y="317.90" width="46.5" height="8.73" fill="#40ffbf"/><rect x="663.4" y="309.48" width="46.5" height="8.72" fill="#50ffaf"/><rect x="663.4" y="301.05" width="46.5" height="8.73" fill="#60ff9f"/><rect x="663.4" y="292.62" width="46.5" height="8.72" fill="#70ff8f"/><rect x="663.4" y="284.20" width="46.5" height="8.73" fill="#80ff80"/><rect x="663.4" y="275.77" width="46.5" height="8.73" fill="#8fff70"/><rect x="663.4" y="267.35" width="46.5" height="8.73" fill="#9fff60"/><rect x="663.4" y="258.93" width="46.5" height="8.72" fill="#afff50"/><rect x="663.4" y="250.50" width="46.5" height="8.73" fill="#bfff40"/><rect x="663.4" y="242.07" width="46.5" height="8.73" fill="#cfff30"/><rect x="663.4" y="233.65" width="46.5" height="8.73" fill="#dfff20"/><rect x="663.4" y="225.23" width="46.5" height="8.72" fill="#efff10"/><rect x="663.4" y="216.80" width="46.5" height="8.73" fill="#ffff00"/><rect x="663.4" y="208.38" width="46.5" height="8.73" fill="#ffef00"/><rect x="663.4" y="199.95" width="46.5" height="8.73" fill="#ffdf00"/><rect x="663.4" y="191.52" width="46.5" height="8.73" fill="#ffcf00"/><rect x="663.4" y="183.10" width="46.5" height="8.72" fill="#ffbf00"/><rect x="663.4" y="174.68" width="46.5" height="8.73" fill="#ffaf00"/><rect x="663.4" y="166.25" width="46.5" height="8.73" fill="#ff9f00"/><rect x="663.4" y="157.82" width="46.5" height="8.73" fill="#ff8f00"/><rect x="663.4" y="149.40" width="46.5" height="8.73" fill="#ff8000"/><rect x="663.4" y="140.98" width="46.5" height="8.72" fill="#ff7000"/><rect x="663.4" y="132.55" width="46.5" height="8.73" fill="#ff6000"/><rect x="663.4" y="124.12" width="46.5" height="8.73" fill="#ff5000"/><rect x="663.4" y="115.70" width="46.5" height="8.73" fill="#ff4000"/><rect x="663.4" y="107.28" width="46.5" height="8.72" fill="#ff3000"/><rect x="663.4" y="98.85" width="46.5" height="8.73" fill="#ff2000"/><rect x="663.4" y="90.43" width="46.5" height="8.73" fill="#ff1000"/><rect x="663.4" y="82.00" width="46.5" height="8.73" fill="#ff0000"/><rect x="663.4" y="73.57" width="46.5" height="8.73" fill="#ef0000"/><rect x="663.4" y="65.15" width="46.5" height="8.72" fill="#df0000"/><rect x="663.4" y="56.73" width="46.5" height="8.73" fill="#cf0000"/><rect x="663.4" y="48.30" width="46.5" height="8.73" fill="#bf0000"/><rect x="663.4" y="39.88" width="46.5" height="8.73" fill="#af0000"/><rect x="663.4" y="31.45" width="46.5" height="8.72" fill="#9f0000"/><rect x="663.4" y="23.02" width="46.5" height="8.73" fill="#8f0000"/><rect x="663.4" y="14.60" width="46.5" height="8.72" fill="#800000"/></g>
<path d="M663.4 467.0h12M709.9 467.0h-12M663.4 380.1h12M709.9 380.1h-12M663.4 293.3h12M709.9 293.3h-12M663.4 206.4h12M709.9 206.4h-12M663.4 119.6h12M709.9 119.6h-12M663.4 32.7h12M709.9 32.7h-12" stroke="#000" stroke-width="1" stroke-opacity="0.6" fill="none"/>
<rect x="663.4" y="14.6" width="46.5" height="539.2" fill="none" stroke="#000" stroke-width="1.1" stroke-opacity="0.85"/>
<g opacity="0.97"><text x="718" y="562.9">0</text>
<path d="M747.61 476.05 L747.61 463.88 L746.66 463.88 C746.30 464.75 745.03 466.02 743.48 466.74 L743.48 468.20 C744.43 467.84 745.62 467.13 746.12 466.58 L746.12 476.05 Z" fill="#151515"/>
<text x="718" y="476.1">0.0</text>
<text x="718" y="389.2">0.02</text>
<text x="718" y="302.4">0.03</text>
<text x="718" y="215.5">0.04</text>
<text x="718" y="128.7">0.05</text>
<text x="718" y="41.8">0.06</text>
<text x="48.5" y="580.3" text-anchor="middle">0</text>
<text x="40.5" y="563.2" text-anchor="end">0</text>
<text x="156.7" y="580.3" text-anchor="middle">0.2</text>
<text x="40.5" y="455.2" text-anchor="end">0.2</text>
<text x="264.9" y="580.3" text-anchor="middle">0.4</text>
<text x="40.5" y="347.2" text-anchor="end">0.4</text>
<text x="373.1" y="580.3" text-anchor="middle">0.6</text>
<text x="40.5" y="239.2" text-anchor="end">0.6</text>
<text x="481.3" y="580.3" text-anchor="middle">0.8</text>
<text x="40.5" y="131.2" text-anchor="end">0.8</text>
<path d="M589.26 580.00 L589.26 567.83 L588.31 567.83 C587.95 568.70 586.67 569.97 585.13 570.68 L585.13 572.15 C586.08 571.79 587.27 571.08 587.76 570.53 L587.76 580.00 Z" fill="#151515"/>
<path d="M37.03 23.20 L37.03 11.03 L36.08 11.03 C35.72 11.89 34.45 13.17 32.90 13.88 L32.90 15.35 C33.85 14.99 35.04 14.27 35.54 13.73 L35.54 23.20 Z" fill="#151515"/></g>
</svg>
</body></html>
